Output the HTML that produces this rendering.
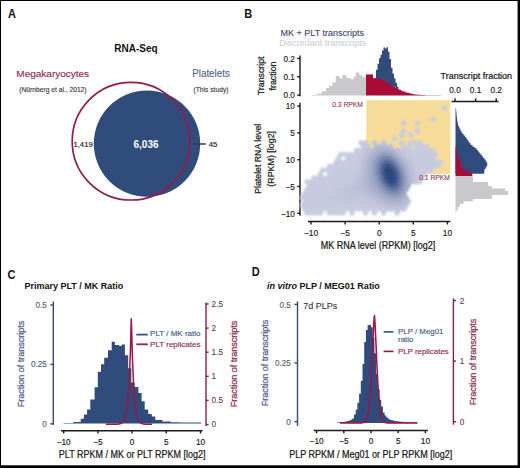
<!DOCTYPE html>
<html><head><meta charset="utf-8"><style>
html,body{margin:0;padding:0;background:#fff;}
body{width:520px;height:468px;overflow:hidden;position:relative;}
svg{position:absolute;left:0;top:0;}
text{font-family:"Liberation Sans",sans-serif;}
</style></head><body>
<svg width="520" height="468" viewBox="0 0 520 468">
<rect x="0" y="0" width="520" height="468" fill="#fff"/>
<text transform="translate(8.1,18) scale(1,1.1)" font-size="11" fill="#111" text-anchor="start" font-weight="bold" >A</text>
<text transform="translate(136,51.7) scale(1,1.0)" font-size="10" fill="#111" text-anchor="middle" font-weight="bold" >RNA-Seq</text>
<text transform="translate(52.7,76.9) scale(1,0.97)" font-size="10" fill="#8e2a4e" stroke="#8e2a4e" stroke-width="0.15" text-anchor="middle" font-weight="normal" >Megakaryocytes</text>
<text transform="translate(52.9,91.6) scale(1,1.0)" font-size="6.7" fill="#333" stroke="#333" stroke-width="0.12" text-anchor="middle" font-weight="normal" >(Nürnberg et al., 2012)</text>
<text transform="translate(211,76.6) scale(1,1.08)" font-size="9.8" fill="#52648a" stroke="#52648a" stroke-width="0.12" text-anchor="middle" font-weight="normal" >Platelets</text>
<text transform="translate(211,91.6) scale(1,1.0)" font-size="6.7" fill="#333" stroke="#333" stroke-width="0.12" text-anchor="middle" font-weight="normal" >(This study)</text>
<circle cx="147" cy="143.6" r="53.2" fill="#304c7c"/>
<circle cx="131" cy="141.2" r="58.8" fill="none" stroke="#931c47" stroke-width="1.7"/>
<text transform="translate(146,147.5) scale(1,1.0)" font-size="10" fill="#fff" text-anchor="middle" font-weight="bold" >6,036</text>
<text transform="translate(83.1,146.6) scale(1,1.0)" font-size="7.75" fill="#222" stroke="#222" stroke-width="0.15" text-anchor="middle" font-weight="normal" >1,419</text>
<line x1="193.4" y1="144" x2="205.8" y2="144" stroke="#3a3a3a" stroke-width="1.5"/>
<text transform="translate(208.8,146.8) scale(1,1.0)" font-size="7.75" fill="#222" stroke="#222" stroke-width="0.15" text-anchor="start" font-weight="normal" >45</text>
<text transform="translate(244.3,17.8) scale(1,1.1)" font-size="11" fill="#111" text-anchor="start" font-weight="bold" >B</text>
<text transform="translate(280.6,35.7) scale(1,1.08)" font-size="9" fill="#38466e" stroke="#38466e" stroke-width="0.1" text-anchor="start" font-weight="normal" >MK + PLT transcripts</text>
<text transform="translate(279.2,45.5) scale(1,1.08)" font-size="9" fill="#d0d0d4" stroke="#d0d0d4" stroke-width="0.1" text-anchor="start" font-weight="normal" >Discordant transcripts</text>
<line x1="300" y1="55.4" x2="300" y2="96.2" stroke="#1a1a1a" stroke-width="1.4"/>
<line x1="297.2" y1="58.5" x2="300" y2="58.5" stroke="#1a1a1a" stroke-width="1.4"/>
<text transform="translate(294.8,61.8) scale(1,1.05)" font-size="8.2" fill="#1a1a1a" stroke="#1a1a1a" stroke-width="0.15" text-anchor="end" font-weight="normal" >0.2</text>
<line x1="297.2" y1="76.8" x2="300" y2="76.8" stroke="#1a1a1a" stroke-width="1.4"/>
<text transform="translate(294.8,80.1) scale(1,1.05)" font-size="8.2" fill="#1a1a1a" stroke="#1a1a1a" stroke-width="0.15" text-anchor="end" font-weight="normal" >0.1</text>
<line x1="297.2" y1="95.1" x2="300" y2="95.1" stroke="#1a1a1a" stroke-width="1.4"/>
<text transform="translate(294.8,98.39999999999999) scale(1,1.05)" font-size="8.2" fill="#1a1a1a" stroke="#1a1a1a" stroke-width="0.15" text-anchor="end" font-weight="normal" >0.0</text>
<text transform="translate(264,75.8) rotate(-90) scale(1,1.03)" font-size="8.8" fill="#1a1a1a" stroke="#1a1a1a" stroke-width="0.22" text-anchor="middle">Transcript</text>
<text transform="translate(276.2,76) rotate(-90) scale(1,1.03)" font-size="8.8" fill="#1a1a1a" stroke="#1a1a1a" stroke-width="0.22" text-anchor="middle">fraction</text>
<line x1="300" y1="102.7" x2="300" y2="215.8" stroke="#1a1a1a" stroke-width="1.4"/>
<line x1="297.2" y1="106.1" x2="300" y2="106.1" stroke="#1a1a1a" stroke-width="1.4"/>
<text transform="translate(294.8,109.39999999999999) scale(1,1.05)" font-size="8.2" fill="#1a1a1a" stroke="#1a1a1a" stroke-width="0.15" text-anchor="end" font-weight="normal" >10</text>
<line x1="297.2" y1="132.9" x2="300" y2="132.9" stroke="#1a1a1a" stroke-width="1.4"/>
<text transform="translate(294.8,136.20000000000002) scale(1,1.05)" font-size="8.2" fill="#1a1a1a" stroke="#1a1a1a" stroke-width="0.15" text-anchor="end" font-weight="normal" >5</text>
<line x1="297.2" y1="159.7" x2="300" y2="159.7" stroke="#1a1a1a" stroke-width="1.4"/>
<text transform="translate(294.8,163.0) scale(1,1.05)" font-size="8.2" fill="#1a1a1a" stroke="#1a1a1a" stroke-width="0.15" text-anchor="end" font-weight="normal" >10</text>
<line x1="297.2" y1="186.5" x2="300" y2="186.5" stroke="#1a1a1a" stroke-width="1.4"/>
<text transform="translate(294.8,189.8) scale(1,1.05)" font-size="8.2" fill="#1a1a1a" stroke="#1a1a1a" stroke-width="0.15" text-anchor="end" font-weight="normal" >−5</text>
<line x1="297.2" y1="213.3" x2="300" y2="213.3" stroke="#1a1a1a" stroke-width="1.4"/>
<text transform="translate(294.8,216.60000000000002) scale(1,1.05)" font-size="8.2" fill="#1a1a1a" stroke="#1a1a1a" stroke-width="0.15" text-anchor="end" font-weight="normal" >−10</text>
<text transform="translate(260.5,158.8) rotate(-90) scale(1,1.0)" font-size="8.75" fill="#1a1a1a" stroke="#1a1a1a" stroke-width="0.22" text-anchor="middle">Platelet RNA level</text>
<text transform="translate(273.6,158.8) rotate(-90) scale(1,1.0)" font-size="8.9" fill="#1a1a1a" stroke="#1a1a1a" stroke-width="0.22" text-anchor="middle">(RPKM) [log2]</text>
<line x1="308" y1="221.5" x2="450.4" y2="221.5" stroke="#1a1a1a" stroke-width="1.4"/>
<line x1="311" y1="221.5" x2="311" y2="224.5" stroke="#1a1a1a" stroke-width="1.4"/>
<text transform="translate(311,235.5) scale(1,1.06)" font-size="8.3" fill="#1a1a1a" stroke="#1a1a1a" stroke-width="0.15" text-anchor="middle" font-weight="normal" >−10</text>
<line x1="345.1" y1="221.5" x2="345.1" y2="224.5" stroke="#1a1a1a" stroke-width="1.4"/>
<text transform="translate(345.1,235.5) scale(1,1.06)" font-size="8.3" fill="#1a1a1a" stroke="#1a1a1a" stroke-width="0.15" text-anchor="middle" font-weight="normal" >−5</text>
<line x1="379.2" y1="221.5" x2="379.2" y2="224.5" stroke="#1a1a1a" stroke-width="1.4"/>
<text transform="translate(379.2,235.5) scale(1,1.06)" font-size="8.3" fill="#1a1a1a" stroke="#1a1a1a" stroke-width="0.15" text-anchor="middle" font-weight="normal" >0</text>
<line x1="413.3" y1="221.5" x2="413.3" y2="224.5" stroke="#1a1a1a" stroke-width="1.4"/>
<text transform="translate(413.3,235.5) scale(1,1.06)" font-size="8.3" fill="#1a1a1a" stroke="#1a1a1a" stroke-width="0.15" text-anchor="middle" font-weight="normal" >5</text>
<line x1="447.4" y1="221.5" x2="447.4" y2="224.5" stroke="#1a1a1a" stroke-width="1.4"/>
<text transform="translate(447.4,235.5) scale(1,1.06)" font-size="8.3" fill="#1a1a1a" stroke="#1a1a1a" stroke-width="0.15" text-anchor="middle" font-weight="normal" >10</text>
<text transform="translate(378,249.2) scale(1,1.12)" font-size="9" fill="#1a1a1a" stroke="#1a1a1a" stroke-width="0.22" text-anchor="middle" font-weight="normal" >MK RNA level (RPKM) [log2]</text>
<rect x="366.3" y="100.2" width="84.1" height="73.8" fill="#f6dc98"/>
<text transform="translate(363,107) scale(1,1.0)" font-size="6.75" fill="#86375a" stroke="#86375a" stroke-width="0.1" text-anchor="end" font-weight="normal" >0.3 RPKM</text>
<defs><filter id="hb" x="-5%" y="-5%" width="110%" height="110%"><feGaussianBlur stdDeviation="0.8"/></filter></defs><g filter="url(#hb)">
<polygon points="446.97,109.21 444.35,110.72 441.74,109.21 441.74,106.19 444.35,104.68 446.97,106.19" fill="rgb(200, 202, 223)"/>
<polygon points="435.71,120.91 433.10,122.42 430.48,120.91 430.48,117.89 433.10,116.38 435.71,117.89" fill="rgb(200, 202, 223)"/>
<polygon points="406.44,124.81 403.82,126.32 401.21,124.81 401.21,121.79 403.82,120.28 406.44,121.79" fill="rgb(200, 202, 223)"/>
<polygon points="419.95,124.81 417.33,126.32 414.72,124.81 414.72,121.79 417.33,120.28 419.95,121.79" fill="rgb(200, 202, 223)"/>
<polygon points="406.44,132.61 403.82,134.12 401.21,132.61 401.21,129.59 403.82,128.08 406.44,129.59" fill="rgb(200, 202, 223)"/>
<polygon points="419.95,132.61 417.33,134.12 414.72,132.61 414.72,129.59 417.33,128.08 419.95,129.59" fill="rgb(200, 202, 223)"/>
<polygon points="404.19,136.51 401.57,138.02 398.96,136.51 398.96,133.49 401.57,131.98 404.19,133.49" fill="rgb(200, 202, 223)"/>
<polygon points="413.19,136.51 410.58,138.02 407.97,136.51 407.97,133.49 410.58,131.98 413.19,133.49" fill="rgb(200, 202, 223)"/>
<polygon points="397.43,140.41 394.82,141.92 392.21,140.41 392.21,137.39 394.82,135.88 397.43,137.39" fill="rgb(200, 202, 223)"/>
<polygon points="363.66,144.31 361.04,145.82 358.43,144.31 358.43,141.29 361.04,139.78 363.66,141.29" fill="rgb(200, 202, 223)"/>
<polygon points="368.16,144.31 365.55,145.82 362.93,144.31 362.93,141.29 365.55,139.78 368.16,141.29" fill="rgb(199, 201, 222)"/>
<polygon points="377.17,144.31 374.55,145.82 371.94,144.31 371.94,141.29 374.55,139.78 377.17,141.29" fill="rgb(194, 197, 219)"/>
<polygon points="386.17,144.31 383.56,145.82 380.95,144.31 380.95,141.29 383.56,139.78 386.17,141.29" fill="rgb(192, 195, 218)"/>
<polygon points="404.19,144.31 401.57,145.82 398.96,144.31 398.96,141.29 401.57,139.78 404.19,141.29" fill="rgb(200, 202, 223)"/>
<polygon points="413.19,144.31 410.58,145.82 407.97,144.31 407.97,141.29 410.58,139.78 413.19,141.29" fill="rgb(200, 202, 223)"/>
<polygon points="417.70,144.31 415.08,145.82 412.47,144.31 412.47,141.29 415.08,139.78 417.70,141.29" fill="rgb(200, 202, 223)"/>
<polygon points="422.20,144.31 419.59,145.82 416.97,144.31 416.97,141.29 419.59,139.78 422.20,141.29" fill="rgb(200, 202, 223)"/>
<polygon points="365.91,148.21 363.29,149.72 360.68,148.21 360.68,145.19 363.29,143.68 365.91,145.19" fill="rgb(199, 201, 222)"/>
<polygon points="370.41,148.21 367.80,149.72 365.19,148.21 365.19,145.19 367.80,143.68 370.41,145.19" fill="rgb(195, 198, 220)"/>
<polygon points="379.42,148.21 376.80,149.72 374.19,148.21 374.19,145.19 376.80,143.68 379.42,145.19" fill="rgb(184, 189, 213)"/>
<polygon points="383.92,148.21 381.31,149.72 378.70,148.21 378.70,145.19 381.31,143.68 383.92,145.19" fill="rgb(181, 186, 211)"/>
<polygon points="388.42,148.21 385.81,149.72 383.20,148.21 383.20,145.19 385.81,143.68 388.42,145.19" fill="rgb(182, 187, 212)"/>
<polygon points="392.93,148.21 390.31,149.72 387.70,148.21 387.70,145.19 390.31,143.68 392.93,145.19" fill="rgb(187, 191, 215)"/>
<polygon points="406.44,148.21 403.82,149.72 401.21,148.21 401.21,145.19 403.82,143.68 406.44,145.19" fill="rgb(200, 202, 223)"/>
<polygon points="410.94,148.21 408.33,149.72 405.72,148.21 405.72,145.19 408.33,143.68 410.94,145.19" fill="rgb(200, 202, 223)"/>
<polygon points="419.95,148.21 417.33,149.72 414.72,148.21 414.72,145.19 417.33,143.68 419.95,145.19" fill="rgb(200, 202, 223)"/>
<polygon points="424.45,148.21 421.84,149.72 419.23,148.21 419.23,145.19 421.84,143.68 424.45,145.19" fill="rgb(200, 202, 223)"/>
<polygon points="428.95,148.21 426.34,149.72 423.73,148.21 423.73,145.19 426.34,143.68 428.95,145.19" fill="rgb(200, 202, 223)"/>
<polygon points="359.15,152.11 356.54,153.62 353.93,152.11 353.93,149.09 356.54,147.58 359.15,149.09" fill="rgb(200, 202, 223)"/>
<polygon points="363.66,152.11 361.04,153.62 358.43,152.11 358.43,149.09 361.04,147.58 363.66,149.09" fill="rgb(199, 201, 222)"/>
<polygon points="368.16,152.11 365.55,153.62 362.93,152.11 362.93,149.09 365.55,147.58 368.16,149.09" fill="rgb(194, 197, 219)"/>
<polygon points="372.66,152.11 370.05,153.62 367.44,152.11 367.44,149.09 370.05,147.58 372.66,149.09" fill="rgb(187, 191, 215)"/>
<polygon points="377.17,152.11 374.55,153.62 371.94,152.11 371.94,149.09 374.55,147.58 377.17,149.09" fill="rgb(178, 184, 209)"/>
<polygon points="381.67,152.11 379.06,153.62 376.44,152.11 376.44,149.09 379.06,147.58 381.67,149.09" fill="rgb(170, 177, 204)"/>
<polygon points="386.17,152.11 383.56,153.62 380.95,152.11 380.95,149.09 383.56,147.58 386.17,149.09" fill="rgb(165, 173, 202)"/>
<polygon points="390.68,152.11 388.06,153.62 385.45,152.11 385.45,149.09 388.06,147.58 390.68,149.09" fill="rgb(168, 176, 204)"/>
<polygon points="395.18,152.11 392.57,153.62 389.95,152.11 389.95,149.09 392.57,147.58 395.18,149.09" fill="rgb(177, 183, 209)"/>
<polygon points="399.68,152.11 397.07,153.62 394.46,152.11 394.46,149.09 397.07,147.58 399.68,149.09" fill="rgb(187, 191, 215)"/>
<polygon points="404.19,152.11 401.57,153.62 398.96,152.11 398.96,149.09 401.57,147.58 404.19,149.09" fill="rgb(195, 198, 220)"/>
<polygon points="408.69,152.11 406.08,153.62 403.46,152.11 403.46,149.09 406.08,147.58 408.69,149.09" fill="rgb(199, 201, 222)"/>
<polygon points="413.19,152.11 410.58,153.62 407.97,152.11 407.97,149.09 410.58,147.58 413.19,149.09" fill="rgb(200, 202, 223)"/>
<polygon points="417.70,152.11 415.08,153.62 412.47,152.11 412.47,149.09 415.08,147.58 417.70,149.09" fill="rgb(200, 202, 223)"/>
<polygon points="422.20,152.11 419.59,153.62 416.97,152.11 416.97,149.09 419.59,147.58 422.20,149.09" fill="rgb(200, 202, 223)"/>
<polygon points="426.70,152.11 424.09,153.62 421.48,152.11 421.48,149.09 424.09,147.58 426.70,149.09" fill="rgb(200, 202, 223)"/>
<polygon points="431.21,152.11 428.59,153.62 425.98,152.11 425.98,149.09 428.59,147.58 431.21,149.09" fill="rgb(200, 202, 223)"/>
<polygon points="435.71,152.11 433.10,153.62 430.48,152.11 430.48,149.09 433.10,147.58 435.71,149.09" fill="rgb(200, 202, 223)"/>
<polygon points="343.39,156.01 340.78,157.52 338.17,156.01 338.17,152.99 340.78,151.48 343.39,152.99" fill="rgb(200, 202, 223)"/>
<polygon points="347.89,156.01 345.28,157.52 342.67,156.01 342.67,152.99 345.28,151.48 347.89,152.99" fill="rgb(200, 202, 223)"/>
<polygon points="352.40,156.01 349.78,157.52 347.17,156.01 347.17,152.99 349.78,151.48 352.40,152.99" fill="rgb(200, 202, 223)"/>
<polygon points="356.90,156.01 354.29,157.52 351.68,156.01 351.68,152.99 354.29,151.48 356.90,152.99" fill="rgb(200, 202, 223)"/>
<polygon points="361.40,156.01 358.79,157.52 356.18,156.01 356.18,152.99 358.79,151.48 361.40,152.99" fill="rgb(199, 201, 222)"/>
<polygon points="365.91,156.01 363.29,157.52 360.68,156.01 360.68,152.99 363.29,151.48 365.91,152.99" fill="rgb(195, 197, 220)"/>
<polygon points="370.41,156.01 367.80,157.52 365.19,156.01 365.19,152.99 367.80,151.48 370.41,152.99" fill="rgb(186, 190, 214)"/>
<polygon points="374.91,156.01 372.30,157.52 369.69,156.01 369.69,152.99 372.30,151.48 374.91,152.99" fill="rgb(175, 181, 207)"/>
<polygon points="379.42,156.01 376.80,157.52 374.19,156.01 374.19,152.99 376.80,151.48 379.42,152.99" fill="rgb(162, 170, 200)"/>
<polygon points="383.92,156.01 381.31,157.52 378.70,156.01 378.70,152.99 381.31,151.48 383.92,152.99" fill="rgb(148, 159, 191)"/>
<polygon points="388.42,156.01 385.81,157.52 383.20,156.01 383.20,152.99 385.81,151.48 388.42,152.99" fill="rgb(143, 155, 188)"/>
<polygon points="392.93,156.01 390.31,157.52 387.70,156.01 387.70,152.99 390.31,151.48 392.93,152.99" fill="rgb(151, 161, 193)"/>
<polygon points="397.43,156.01 394.82,157.52 392.21,156.01 392.21,152.99 394.82,151.48 397.43,152.99" fill="rgb(167, 175, 203)"/>
<polygon points="401.93,156.01 399.32,157.52 396.71,156.01 396.71,152.99 399.32,151.48 401.93,152.99" fill="rgb(182, 187, 212)"/>
<polygon points="406.44,156.01 403.82,157.52 401.21,156.01 401.21,152.99 403.82,151.48 406.44,152.99" fill="rgb(192, 195, 218)"/>
<polygon points="410.94,156.01 408.33,157.52 405.72,156.01 405.72,152.99 408.33,151.48 410.94,152.99" fill="rgb(198, 200, 222)"/>
<polygon points="415.44,156.01 412.83,157.52 410.22,156.01 410.22,152.99 412.83,151.48 415.44,152.99" fill="rgb(200, 202, 223)"/>
<polygon points="419.95,156.01 417.33,157.52 414.72,156.01 414.72,152.99 417.33,151.48 419.95,152.99" fill="rgb(200, 202, 223)"/>
<polygon points="424.45,156.01 421.84,157.52 419.23,156.01 419.23,152.99 421.84,151.48 424.45,152.99" fill="rgb(200, 202, 223)"/>
<polygon points="428.95,156.01 426.34,157.52 423.73,156.01 423.73,152.99 426.34,151.48 428.95,152.99" fill="rgb(200, 202, 223)"/>
<polygon points="433.46,156.01 430.84,157.52 428.23,156.01 428.23,152.99 430.84,151.48 433.46,152.99" fill="rgb(200, 202, 223)"/>
<polygon points="437.96,156.01 435.35,157.52 432.74,156.01 432.74,152.99 435.35,151.48 437.96,152.99" fill="rgb(200, 202, 223)"/>
<polygon points="341.14,159.91 338.53,161.42 335.91,159.91 335.91,156.89 338.53,155.38 341.14,156.89" fill="rgb(200, 202, 223)"/>
<polygon points="350.15,159.91 347.53,161.42 344.92,159.91 344.92,156.89 347.53,155.38 350.15,156.89" fill="rgb(200, 202, 223)"/>
<polygon points="354.65,159.91 352.04,161.42 349.42,159.91 349.42,156.89 352.04,155.38 354.65,156.89" fill="rgb(200, 202, 223)"/>
<polygon points="359.15,159.91 356.54,161.42 353.93,159.91 353.93,156.89 356.54,155.38 359.15,156.89" fill="rgb(200, 202, 223)"/>
<polygon points="363.66,159.91 361.04,161.42 358.43,159.91 358.43,156.89 361.04,155.38 363.66,156.89" fill="rgb(196, 199, 220)"/>
<polygon points="368.16,159.91 365.55,161.42 362.93,159.91 362.93,156.89 365.55,155.38 368.16,156.89" fill="rgb(187, 191, 215)"/>
<polygon points="372.66,159.91 370.05,161.42 367.44,159.91 367.44,156.89 370.05,155.38 372.66,156.89" fill="rgb(175, 181, 207)"/>
<polygon points="377.17,159.91 374.55,161.42 371.94,159.91 371.94,156.89 374.55,155.38 377.17,156.89" fill="rgb(159, 168, 198)"/>
<polygon points="381.67,159.91 379.06,161.42 376.44,159.91 376.44,156.89 379.06,155.38 381.67,156.89" fill="rgb(138, 151, 185)"/>
<polygon points="386.17,159.91 383.56,161.42 380.95,159.91 380.95,156.89 383.56,155.38 386.17,156.89" fill="rgb(119, 134, 174)"/>
<polygon points="390.68,159.91 388.06,161.42 385.45,159.91 385.45,156.89 388.06,155.38 390.68,156.89" fill="rgb(116, 132, 172)"/>
<polygon points="395.18,159.91 392.57,161.42 389.95,159.91 389.95,156.89 392.57,155.38 395.18,156.89" fill="rgb(133, 146, 182)"/>
<polygon points="399.68,159.91 397.07,161.42 394.46,159.91 394.46,156.89 397.07,155.38 399.68,156.89" fill="rgb(158, 167, 198)"/>
<polygon points="404.19,159.91 401.57,161.42 398.96,159.91 398.96,156.89 401.57,155.38 404.19,156.89" fill="rgb(178, 183, 209)"/>
<polygon points="408.69,159.91 406.08,161.42 403.46,159.91 403.46,156.89 406.08,155.38 408.69,156.89" fill="rgb(190, 193, 217)"/>
<polygon points="413.19,159.91 410.58,161.42 407.97,159.91 407.97,156.89 410.58,155.38 413.19,156.89" fill="rgb(197, 200, 221)"/>
<polygon points="417.70,159.91 415.08,161.42 412.47,159.91 412.47,156.89 415.08,155.38 417.70,156.89" fill="rgb(200, 202, 223)"/>
<polygon points="422.20,159.91 419.59,161.42 416.97,159.91 416.97,156.89 419.59,155.38 422.20,156.89" fill="rgb(200, 202, 223)"/>
<polygon points="426.70,159.91 424.09,161.42 421.48,159.91 421.48,156.89 424.09,155.38 426.70,156.89" fill="rgb(200, 202, 223)"/>
<polygon points="431.21,159.91 428.59,161.42 425.98,159.91 425.98,156.89 428.59,155.38 431.21,156.89" fill="rgb(200, 202, 223)"/>
<polygon points="435.71,159.91 433.10,161.42 430.48,159.91 430.48,156.89 433.10,155.38 435.71,156.89" fill="rgb(200, 202, 223)"/>
<polygon points="338.89,163.81 336.27,165.32 333.66,163.81 333.66,160.79 336.27,159.28 338.89,160.79" fill="rgb(200, 202, 223)"/>
<polygon points="343.39,163.81 340.78,165.32 338.17,163.81 338.17,160.79 340.78,159.28 343.39,160.79" fill="rgb(200, 202, 223)"/>
<polygon points="347.89,163.81 345.28,165.32 342.67,163.81 342.67,160.79 345.28,159.28 347.89,160.79" fill="rgb(200, 202, 223)"/>
<polygon points="352.40,163.81 349.78,165.32 347.17,163.81 347.17,160.79 349.78,159.28 352.40,160.79" fill="rgb(200, 202, 223)"/>
<polygon points="356.90,163.81 354.29,165.32 351.68,163.81 351.68,160.79 354.29,159.28 356.90,160.79" fill="rgb(200, 202, 223)"/>
<polygon points="361.40,163.81 358.79,165.32 356.18,163.81 356.18,160.79 358.79,159.28 361.40,160.79" fill="rgb(198, 200, 221)"/>
<polygon points="365.91,163.81 363.29,165.32 360.68,163.81 360.68,160.79 363.29,159.28 365.91,160.79" fill="rgb(189, 193, 216)"/>
<polygon points="370.41,163.81 367.80,165.32 365.19,163.81 365.19,160.79 367.80,159.28 370.41,160.79" fill="rgb(177, 183, 209)"/>
<polygon points="374.91,163.81 372.30,165.32 369.69,163.81 369.69,160.79 372.30,159.28 374.91,160.79" fill="rgb(162, 170, 200)"/>
<polygon points="379.42,163.81 376.80,165.32 374.19,163.81 374.19,160.79 376.80,159.28 379.42,160.79" fill="rgb(139, 151, 186)"/>
<polygon points="383.92,163.81 381.31,165.32 378.70,163.81 378.70,160.79 381.31,159.28 383.92,160.79" fill="rgb(108, 125, 167)"/>
<polygon points="388.42,163.81 385.81,165.32 383.20,163.81 383.20,160.79 385.81,159.28 388.42,160.79" fill="rgb(85, 106, 153)"/>
<polygon points="392.93,163.81 390.31,165.32 387.70,163.81 387.70,160.79 390.31,159.28 392.93,160.79" fill="rgb(90, 110, 156)"/>
<polygon points="397.43,163.81 394.82,165.32 392.21,163.81 392.21,160.79 394.82,159.28 397.43,160.79" fill="rgb(119, 134, 173)"/>
<polygon points="401.93,163.81 399.32,165.32 396.71,163.81 396.71,160.79 399.32,159.28 401.93,160.79" fill="rgb(153, 162, 194)"/>
<polygon points="406.44,163.81 403.82,165.32 401.21,163.81 401.21,160.79 403.82,159.28 406.44,160.79" fill="rgb(175, 181, 208)"/>
<polygon points="410.94,163.81 408.33,165.32 405.72,163.81 405.72,160.79 408.33,159.28 410.94,160.79" fill="rgb(189, 193, 216)"/>
<polygon points="415.44,163.81 412.83,165.32 410.22,163.81 410.22,160.79 412.83,159.28 415.44,160.79" fill="rgb(197, 200, 221)"/>
<polygon points="419.95,163.81 417.33,165.32 414.72,163.81 414.72,160.79 417.33,159.28 419.95,160.79" fill="rgb(200, 202, 223)"/>
<polygon points="424.45,163.81 421.84,165.32 419.23,163.81 419.23,160.79 421.84,159.28 424.45,160.79" fill="rgb(200, 202, 223)"/>
<polygon points="428.95,163.81 426.34,165.32 423.73,163.81 423.73,160.79 426.34,159.28 428.95,160.79" fill="rgb(200, 202, 223)"/>
<polygon points="433.46,163.81 430.84,165.32 428.23,163.81 428.23,160.79 430.84,159.28 433.46,160.79" fill="rgb(200, 202, 223)"/>
<polygon points="437.96,163.81 435.35,165.32 432.74,163.81 432.74,160.79 435.35,159.28 437.96,160.79" fill="rgb(200, 202, 223)"/>
<polygon points="442.46,163.81 439.85,165.32 437.24,163.81 437.24,160.79 439.85,159.28 442.46,160.79" fill="rgb(200, 202, 223)"/>
<polygon points="332.13,167.71 329.52,169.22 326.91,167.71 326.91,164.69 329.52,163.18 332.13,164.69" fill="rgb(200, 202, 223)"/>
<polygon points="336.64,167.71 334.02,169.22 331.41,167.71 331.41,164.69 334.02,163.18 336.64,164.69" fill="rgb(200, 202, 223)"/>
<polygon points="341.14,167.71 338.53,169.22 335.91,167.71 335.91,164.69 338.53,163.18 341.14,164.69" fill="rgb(200, 202, 223)"/>
<polygon points="345.64,167.71 343.03,169.22 340.42,167.71 340.42,164.69 343.03,163.18 345.64,164.69" fill="rgb(200, 202, 223)"/>
<polygon points="350.15,167.71 347.53,169.22 344.92,167.71 344.92,164.69 347.53,163.18 350.15,164.69" fill="rgb(200, 202, 223)"/>
<polygon points="354.65,167.71 352.04,169.22 349.42,167.71 349.42,164.69 352.04,163.18 354.65,164.69" fill="rgb(200, 202, 223)"/>
<polygon points="359.15,167.71 356.54,169.22 353.93,167.71 353.93,164.69 356.54,163.18 359.15,164.69" fill="rgb(199, 201, 222)"/>
<polygon points="363.66,167.71 361.04,169.22 358.43,167.71 358.43,164.69 361.04,163.18 363.66,164.69" fill="rgb(193, 196, 218)"/>
<polygon points="368.16,167.71 365.55,169.22 362.93,167.71 362.93,164.69 365.55,163.18 368.16,164.69" fill="rgb(181, 186, 211)"/>
<polygon points="372.66,167.71 370.05,169.22 367.44,167.71 367.44,164.69 370.05,163.18 372.66,164.69" fill="rgb(167, 174, 203)"/>
<polygon points="377.17,167.71 374.55,169.22 371.94,167.71 371.94,164.69 374.55,163.18 377.17,164.69" fill="rgb(147, 158, 191)"/>
<polygon points="381.67,167.71 379.06,169.22 376.44,167.71 376.44,164.69 379.06,163.18 381.67,164.69" fill="rgb(113, 130, 170)"/>
<polygon points="386.17,167.71 383.56,169.22 380.95,167.71 380.95,164.69 383.56,163.18 386.17,164.69" fill="rgb(74, 97, 146)"/>
<polygon points="390.68,167.71 388.06,169.22 385.45,167.71 385.45,164.69 388.06,163.18 390.68,164.69" fill="rgb(55, 81, 134)"/>
<polygon points="395.18,167.71 392.57,169.22 389.95,167.71 389.95,164.69 392.57,163.18 395.18,164.69" fill="rgb(70, 94, 144)"/>
<polygon points="399.68,167.71 397.07,169.22 394.46,167.71 394.46,164.69 397.07,163.18 399.68,164.69" fill="rgb(111, 128, 169)"/>
<polygon points="404.19,167.71 401.57,169.22 398.96,167.71 398.96,164.69 401.57,163.18 404.19,164.69" fill="rgb(151, 161, 193)"/>
<polygon points="408.69,167.71 406.08,169.22 403.46,167.71 403.46,164.69 406.08,163.18 408.69,164.69" fill="rgb(175, 181, 208)"/>
<polygon points="413.19,167.71 410.58,169.22 407.97,167.71 407.97,164.69 410.58,163.18 413.19,164.69" fill="rgb(189, 193, 216)"/>
<polygon points="417.70,167.71 415.08,169.22 412.47,167.71 412.47,164.69 415.08,163.18 417.70,164.69" fill="rgb(198, 200, 221)"/>
<polygon points="422.20,167.71 419.59,169.22 416.97,167.71 416.97,164.69 419.59,163.18 422.20,164.69" fill="rgb(200, 202, 223)"/>
<polygon points="426.70,167.71 424.09,169.22 421.48,167.71 421.48,164.69 424.09,163.18 426.70,164.69" fill="rgb(200, 202, 223)"/>
<polygon points="431.21,167.71 428.59,169.22 425.98,167.71 425.98,164.69 428.59,163.18 431.21,164.69" fill="rgb(200, 202, 223)"/>
<polygon points="435.71,167.71 433.10,169.22 430.48,167.71 430.48,164.69 433.10,163.18 435.71,164.69" fill="rgb(200, 202, 223)"/>
<polygon points="440.21,167.71 437.60,169.22 434.99,167.71 434.99,164.69 437.60,163.18 440.21,164.69" fill="rgb(200, 202, 223)"/>
<polygon points="325.38,171.61 322.76,173.12 320.15,171.61 320.15,168.59 322.76,167.08 325.38,168.59" fill="rgb(200, 202, 223)"/>
<polygon points="329.88,171.61 327.27,173.12 324.66,171.61 324.66,168.59 327.27,167.08 329.88,168.59" fill="rgb(200, 202, 223)"/>
<polygon points="334.38,171.61 331.77,173.12 329.16,171.61 329.16,168.59 331.77,167.08 334.38,168.59" fill="rgb(200, 202, 223)"/>
<polygon points="338.89,171.61 336.27,173.12 333.66,171.61 333.66,168.59 336.27,167.08 338.89,168.59" fill="rgb(200, 202, 223)"/>
<polygon points="343.39,171.61 340.78,173.12 338.17,171.61 338.17,168.59 340.78,167.08 343.39,168.59" fill="rgb(200, 202, 223)"/>
<polygon points="347.89,171.61 345.28,173.12 342.67,171.61 342.67,168.59 345.28,167.08 347.89,168.59" fill="rgb(200, 202, 223)"/>
<polygon points="352.40,171.61 349.78,173.12 347.17,171.61 347.17,168.59 349.78,167.08 352.40,168.59" fill="rgb(200, 202, 223)"/>
<polygon points="356.90,171.61 354.29,173.12 351.68,171.61 351.68,168.59 354.29,167.08 356.90,168.59" fill="rgb(199, 201, 222)"/>
<polygon points="361.40,171.61 358.79,173.12 356.18,171.61 356.18,168.59 358.79,167.08 361.40,168.59" fill="rgb(195, 198, 220)"/>
<polygon points="365.91,171.61 363.29,173.12 360.68,171.61 360.68,168.59 363.29,167.08 365.91,168.59" fill="rgb(186, 190, 214)"/>
<polygon points="370.41,171.61 367.80,173.12 365.19,171.61 365.19,168.59 367.80,167.08 370.41,168.59" fill="rgb(173, 179, 206)"/>
<polygon points="374.91,171.61 372.30,173.12 369.69,171.61 369.69,168.59 372.30,167.08 374.91,168.59" fill="rgb(157, 166, 196)"/>
<polygon points="379.42,171.61 376.80,173.12 374.19,171.61 374.19,168.59 376.80,167.08 379.42,168.59" fill="rgb(130, 144, 180)"/>
<polygon points="383.92,171.61 381.31,173.12 378.70,171.61 378.70,168.59 381.31,167.08 383.92,168.59" fill="rgb(86, 107, 154)"/>
<polygon points="388.42,171.61 385.81,173.12 383.20,171.61 383.20,168.59 385.81,167.08 388.42,168.59" fill="rgb(45, 73, 129)"/>
<polygon points="392.93,171.61 390.31,173.12 387.70,171.61 387.70,168.59 390.31,167.08 392.93,168.59" fill="rgb(44, 72, 128)"/>
<polygon points="397.43,171.61 394.82,173.12 392.21,171.61 392.21,168.59 394.82,167.08 397.43,168.59" fill="rgb(63, 88, 139)"/>
<polygon points="401.93,171.61 399.32,173.12 396.71,171.61 396.71,168.59 399.32,167.08 401.93,168.59" fill="rgb(113, 129, 170)"/>
<polygon points="406.44,171.61 403.82,173.12 401.21,171.61 401.21,168.59 403.82,167.08 406.44,168.59" fill="rgb(154, 164, 195)"/>
<polygon points="410.94,171.61 408.33,173.12 405.72,171.61 405.72,168.59 408.33,167.08 410.94,168.59" fill="rgb(177, 183, 209)"/>
<polygon points="415.44,171.61 412.83,173.12 410.22,171.61 410.22,168.59 412.83,167.08 415.44,168.59" fill="rgb(191, 194, 217)"/>
<polygon points="419.95,171.61 417.33,173.12 414.72,171.61 414.72,168.59 417.33,167.08 419.95,168.59" fill="rgb(199, 201, 222)"/>
<polygon points="424.45,171.61 421.84,173.12 419.23,171.61 419.23,168.59 421.84,167.08 424.45,168.59" fill="rgb(200, 202, 223)"/>
<polygon points="428.95,171.61 426.34,173.12 423.73,171.61 423.73,168.59 426.34,167.08 428.95,168.59" fill="rgb(200, 202, 223)"/>
<polygon points="433.46,171.61 430.84,173.12 428.23,171.61 428.23,168.59 430.84,167.08 433.46,168.59" fill="rgb(200, 202, 223)"/>
<polygon points="323.13,175.51 320.51,177.02 317.90,175.51 317.90,172.49 320.51,170.98 323.13,172.49" fill="rgb(200, 202, 223)"/>
<polygon points="332.13,175.51 329.52,177.02 326.91,175.51 326.91,172.49 329.52,170.98 332.13,172.49" fill="rgb(200, 202, 223)"/>
<polygon points="336.64,175.51 334.02,177.02 331.41,175.51 331.41,172.49 334.02,170.98 336.64,172.49" fill="rgb(200, 202, 223)"/>
<polygon points="341.14,175.51 338.53,177.02 335.91,175.51 335.91,172.49 338.53,170.98 341.14,172.49" fill="rgb(200, 202, 223)"/>
<polygon points="345.64,175.51 343.03,177.02 340.42,175.51 340.42,172.49 343.03,170.98 345.64,172.49" fill="rgb(200, 202, 223)"/>
<polygon points="350.15,175.51 347.53,177.02 344.92,175.51 344.92,172.49 347.53,170.98 350.15,172.49" fill="rgb(200, 202, 223)"/>
<polygon points="354.65,175.51 352.04,177.02 349.42,175.51 349.42,172.49 352.04,170.98 354.65,172.49" fill="rgb(200, 202, 223)"/>
<polygon points="359.15,175.51 356.54,177.02 353.93,175.51 353.93,172.49 356.54,170.98 359.15,172.49" fill="rgb(197, 199, 221)"/>
<polygon points="363.66,175.51 361.04,177.02 358.43,175.51 358.43,172.49 361.04,170.98 363.66,172.49" fill="rgb(190, 193, 216)"/>
<polygon points="368.16,175.51 365.55,177.02 362.93,175.51 362.93,172.49 365.55,170.98 368.16,172.49" fill="rgb(179, 184, 210)"/>
<polygon points="372.66,175.51 370.05,177.02 367.44,175.51 367.44,172.49 370.05,170.98 372.66,172.49" fill="rgb(165, 173, 201)"/>
<polygon points="377.17,175.51 374.55,177.02 371.94,175.51 371.94,172.49 374.55,170.98 377.17,172.49" fill="rgb(146, 157, 190)"/>
<polygon points="381.67,175.51 379.06,177.02 376.44,175.51 376.44,172.49 379.06,170.98 381.67,172.49" fill="rgb(113, 129, 170)"/>
<polygon points="386.17,175.51 383.56,177.02 380.95,175.51 380.95,172.49 383.56,170.98 386.17,172.49" fill="rgb(64, 89, 140)"/>
<polygon points="390.68,175.51 388.06,177.02 385.45,175.51 385.45,172.49 388.06,170.98 390.68,172.49" fill="rgb(44, 72, 128)"/>
<polygon points="395.18,175.51 392.57,177.02 389.95,175.51 389.95,172.49 392.57,170.98 395.18,172.49" fill="rgb(44, 72, 128)"/>
<polygon points="399.68,175.51 397.07,177.02 394.46,175.51 394.46,172.49 397.07,170.98 399.68,172.49" fill="rgb(69, 93, 143)"/>
<polygon points="404.19,175.51 401.57,177.02 398.96,175.51 398.96,172.49 401.57,170.98 404.19,172.49" fill="rgb(122, 137, 175)"/>
<polygon points="408.69,175.51 406.08,177.02 403.46,175.51 403.46,172.49 406.08,170.98 408.69,172.49" fill="rgb(161, 169, 199)"/>
<polygon points="413.19,175.51 410.58,177.02 407.97,175.51 407.97,172.49 410.58,170.98 413.19,172.49" fill="rgb(181, 186, 211)"/>
<polygon points="417.70,175.51 415.08,177.02 412.47,175.51 412.47,172.49 415.08,170.98 417.70,172.49" fill="rgb(193, 196, 219)"/>
<polygon points="422.20,175.51 419.59,177.02 416.97,175.51 416.97,172.49 419.59,170.98 422.20,172.49" fill="rgb(199, 201, 222)"/>
<polygon points="426.70,175.51 424.09,177.02 421.48,175.51 421.48,172.49 424.09,170.98 426.70,172.49" fill="rgb(200, 202, 223)"/>
<polygon points="316.37,179.41 313.76,180.92 311.15,179.41 311.15,176.39 313.76,174.88 316.37,176.39" fill="rgb(200, 202, 223)"/>
<polygon points="320.87,179.41 318.26,180.92 315.65,179.41 315.65,176.39 318.26,174.88 320.87,176.39" fill="rgb(200, 202, 223)"/>
<polygon points="325.38,179.41 322.76,180.92 320.15,179.41 320.15,176.39 322.76,174.88 325.38,176.39" fill="rgb(200, 202, 223)"/>
<polygon points="329.88,179.41 327.27,180.92 324.66,179.41 324.66,176.39 327.27,174.88 329.88,176.39" fill="rgb(200, 202, 223)"/>
<polygon points="334.38,179.41 331.77,180.92 329.16,179.41 329.16,176.39 331.77,174.88 334.38,176.39" fill="rgb(200, 202, 223)"/>
<polygon points="338.89,179.41 336.27,180.92 333.66,179.41 333.66,176.39 336.27,174.88 338.89,176.39" fill="rgb(200, 202, 223)"/>
<polygon points="343.39,179.41 340.78,180.92 338.17,179.41 338.17,176.39 340.78,174.88 343.39,176.39" fill="rgb(200, 202, 223)"/>
<polygon points="347.89,179.41 345.28,180.92 342.67,179.41 342.67,176.39 345.28,174.88 347.89,176.39" fill="rgb(200, 202, 223)"/>
<polygon points="352.40,179.41 349.78,180.92 347.17,179.41 347.17,176.39 349.78,174.88 352.40,176.39" fill="rgb(199, 201, 222)"/>
<polygon points="356.90,179.41 354.29,180.92 351.68,179.41 351.68,176.39 354.29,174.88 356.90,176.39" fill="rgb(197, 199, 221)"/>
<polygon points="361.40,179.41 358.79,180.92 356.18,179.41 356.18,176.39 358.79,174.88 361.40,176.39" fill="rgb(192, 195, 218)"/>
<polygon points="365.91,179.41 363.29,180.92 360.68,179.41 360.68,176.39 363.29,174.88 365.91,176.39" fill="rgb(183, 188, 213)"/>
<polygon points="370.41,179.41 367.80,180.92 365.19,179.41 365.19,176.39 367.80,174.88 370.41,176.39" fill="rgb(172, 179, 206)"/>
<polygon points="374.91,179.41 372.30,180.92 369.69,179.41 369.69,176.39 372.30,174.88 374.91,176.39" fill="rgb(158, 167, 197)"/>
<polygon points="379.42,179.41 376.80,180.92 374.19,179.41 374.19,176.39 376.80,174.88 379.42,176.39" fill="rgb(138, 150, 185)"/>
<polygon points="383.92,179.41 381.31,180.92 378.70,179.41 378.70,176.39 381.31,174.88 383.92,176.39" fill="rgb(100, 119, 162)"/>
<polygon points="388.42,179.41 385.81,180.92 383.20,179.41 383.20,176.39 385.81,174.88 388.42,176.39" fill="rgb(53, 79, 133)"/>
<polygon points="392.93,179.41 390.31,180.92 387.70,179.41 387.70,176.39 390.31,174.88 392.93,176.39" fill="rgb(44, 72, 128)"/>
<polygon points="397.43,179.41 394.82,180.92 392.21,179.41 392.21,176.39 394.82,174.88 397.43,176.39" fill="rgb(44, 72, 128)"/>
<polygon points="401.93,179.41 399.32,180.92 396.71,179.41 396.71,176.39 399.32,174.88 401.93,176.39" fill="rgb(87, 107, 154)"/>
<polygon points="406.44,179.41 403.82,180.92 401.21,179.41 401.21,176.39 403.82,174.88 406.44,176.39" fill="rgb(137, 149, 184)"/>
<polygon points="410.94,179.41 408.33,180.92 405.72,179.41 405.72,176.39 408.33,174.88 410.94,176.39" fill="rgb(168, 175, 203)"/>
<polygon points="415.44,179.41 412.83,180.92 410.22,179.41 410.22,176.39 412.83,174.88 415.44,176.39" fill="rgb(185, 190, 214)"/>
<polygon points="419.95,179.41 417.33,180.92 414.72,179.41 414.72,176.39 417.33,174.88 419.95,176.39" fill="rgb(196, 199, 221)"/>
<polygon points="424.45,179.41 421.84,180.92 419.23,179.41 419.23,176.39 421.84,174.88 424.45,176.39" fill="rgb(200, 202, 223)"/>
<polygon points="309.62,183.31 307.00,184.82 304.39,183.31 304.39,180.29 307.00,178.78 309.62,180.29" fill="rgb(200, 202, 223)"/>
<polygon points="314.12,183.31 311.51,184.82 308.89,183.31 308.89,180.29 311.51,178.78 314.12,180.29" fill="rgb(200, 202, 223)"/>
<polygon points="318.62,183.31 316.01,184.82 313.40,183.31 313.40,180.29 316.01,178.78 318.62,180.29" fill="rgb(200, 202, 223)"/>
<polygon points="323.13,183.31 320.51,184.82 317.90,183.31 317.90,180.29 320.51,178.78 323.13,180.29" fill="rgb(200, 202, 223)"/>
<polygon points="327.63,183.31 325.02,184.82 322.40,183.31 322.40,180.29 325.02,178.78 327.63,180.29" fill="rgb(200, 202, 223)"/>
<polygon points="332.13,183.31 329.52,184.82 326.91,183.31 326.91,180.29 329.52,178.78 332.13,180.29" fill="rgb(200, 202, 223)"/>
<polygon points="336.64,183.31 334.02,184.82 331.41,183.31 331.41,180.29 334.02,178.78 336.64,180.29" fill="rgb(200, 202, 223)"/>
<polygon points="341.14,183.31 338.53,184.82 335.91,183.31 335.91,180.29 338.53,178.78 341.14,180.29" fill="rgb(200, 202, 223)"/>
<polygon points="345.64,183.31 343.03,184.82 340.42,183.31 340.42,180.29 343.03,178.78 345.64,180.29" fill="rgb(200, 202, 223)"/>
<polygon points="350.15,183.31 347.53,184.82 344.92,183.31 344.92,180.29 347.53,178.78 350.15,180.29" fill="rgb(199, 201, 222)"/>
<polygon points="354.65,183.31 352.04,184.82 349.42,183.31 349.42,180.29 352.04,178.78 354.65,180.29" fill="rgb(196, 199, 221)"/>
<polygon points="359.15,183.31 356.54,184.82 353.93,183.31 353.93,180.29 356.54,178.78 359.15,180.29" fill="rgb(192, 196, 218)"/>
<polygon points="363.66,183.31 361.04,184.82 358.43,183.31 358.43,180.29 361.04,178.78 363.66,180.29" fill="rgb(186, 191, 215)"/>
<polygon points="368.16,183.31 365.55,184.82 362.93,183.31 362.93,180.29 365.55,178.78 368.16,180.29" fill="rgb(178, 184, 210)"/>
<polygon points="372.66,183.31 370.05,184.82 367.44,183.31 367.44,180.29 370.05,178.78 372.66,180.29" fill="rgb(167, 175, 203)"/>
<polygon points="377.17,183.31 374.55,184.82 371.94,183.31 371.94,180.29 374.55,178.78 377.17,180.29" fill="rgb(154, 164, 195)"/>
<polygon points="381.67,183.31 379.06,184.82 376.44,183.31 376.44,180.29 379.06,178.78 381.67,180.29" fill="rgb(133, 146, 182)"/>
<polygon points="386.17,183.31 383.56,184.82 380.95,183.31 380.95,180.29 383.56,178.78 386.17,180.29" fill="rgb(95, 114, 159)"/>
<polygon points="390.68,183.31 388.06,184.82 385.45,183.31 385.45,180.29 388.06,178.78 390.68,180.29" fill="rgb(55, 81, 135)"/>
<polygon points="395.18,183.31 392.57,184.82 389.95,183.31 389.95,180.29 392.57,178.78 395.18,180.29" fill="rgb(44, 72, 128)"/>
<polygon points="399.68,183.31 397.07,184.82 394.46,183.31 394.46,180.29 397.07,178.78 399.68,180.29" fill="rgb(65, 90, 141)"/>
<polygon points="404.19,183.31 401.57,184.82 398.96,183.31 398.96,180.29 401.57,178.78 404.19,180.29" fill="rgb(112, 128, 169)"/>
<polygon points="408.69,183.31 406.08,184.82 403.46,183.31 403.46,180.29 406.08,178.78 408.69,180.29" fill="rgb(153, 162, 194)"/>
<polygon points="413.19,183.31 410.58,184.82 407.97,183.31 407.97,180.29 410.58,178.78 413.19,180.29" fill="rgb(176, 182, 208)"/>
<polygon points="417.70,183.31 415.08,184.82 412.47,183.31 412.47,180.29 415.08,178.78 417.70,180.29" fill="rgb(191, 194, 217)"/>
<polygon points="422.20,183.31 419.59,184.82 416.97,183.31 416.97,180.29 419.59,178.78 422.20,180.29" fill="rgb(199, 201, 222)"/>
<polygon points="311.87,187.21 309.25,188.72 306.64,187.21 306.64,184.19 309.25,182.68 311.87,184.19" fill="rgb(200, 202, 223)"/>
<polygon points="316.37,187.21 313.76,188.72 311.15,187.21 311.15,184.19 313.76,182.68 316.37,184.19" fill="rgb(200, 202, 223)"/>
<polygon points="320.87,187.21 318.26,188.72 315.65,187.21 315.65,184.19 318.26,182.68 320.87,184.19" fill="rgb(200, 202, 223)"/>
<polygon points="325.38,187.21 322.76,188.72 320.15,187.21 320.15,184.19 322.76,182.68 325.38,184.19" fill="rgb(200, 202, 223)"/>
<polygon points="329.88,187.21 327.27,188.72 324.66,187.21 324.66,184.19 327.27,182.68 329.88,184.19" fill="rgb(200, 202, 223)"/>
<polygon points="334.38,187.21 331.77,188.72 329.16,187.21 329.16,184.19 331.77,182.68 334.38,184.19" fill="rgb(200, 202, 223)"/>
<polygon points="338.89,187.21 336.27,188.72 333.66,187.21 333.66,184.19 336.27,182.68 338.89,184.19" fill="rgb(200, 202, 223)"/>
<polygon points="343.39,187.21 340.78,188.72 338.17,187.21 338.17,184.19 340.78,182.68 343.39,184.19" fill="rgb(199, 201, 222)"/>
<polygon points="347.89,187.21 345.28,188.72 342.67,187.21 342.67,184.19 345.28,182.68 347.89,184.19" fill="rgb(197, 200, 221)"/>
<polygon points="352.40,187.21 349.78,188.72 347.17,187.21 347.17,184.19 349.78,182.68 352.40,184.19" fill="rgb(195, 198, 220)"/>
<polygon points="356.90,187.21 354.29,188.72 351.68,187.21 351.68,184.19 354.29,182.68 356.90,184.19" fill="rgb(192, 195, 218)"/>
<polygon points="361.40,187.21 358.79,188.72 356.18,187.21 356.18,184.19 358.79,182.68 361.40,184.19" fill="rgb(188, 192, 216)"/>
<polygon points="365.91,187.21 363.29,188.72 360.68,187.21 360.68,184.19 363.29,182.68 365.91,184.19" fill="rgb(183, 188, 212)"/>
<polygon points="370.41,187.21 367.80,188.72 365.19,187.21 365.19,184.19 367.80,182.68 370.41,184.19" fill="rgb(175, 181, 208)"/>
<polygon points="374.91,187.21 372.30,188.72 369.69,187.21 369.69,184.19 372.30,182.68 374.91,184.19" fill="rgb(166, 173, 202)"/>
<polygon points="379.42,187.21 376.80,188.72 374.19,187.21 374.19,184.19 376.80,182.68 379.42,184.19" fill="rgb(153, 163, 194)"/>
<polygon points="383.92,187.21 381.31,188.72 378.70,187.21 378.70,184.19 381.31,182.68 383.92,184.19" fill="rgb(132, 145, 181)"/>
<polygon points="388.42,187.21 385.81,188.72 383.20,187.21 383.20,184.19 385.81,182.68 388.42,184.19" fill="rgb(99, 118, 161)"/>
<polygon points="392.93,187.21 390.31,188.72 387.70,187.21 387.70,184.19 390.31,182.68 392.93,184.19" fill="rgb(71, 94, 144)"/>
<polygon points="397.43,187.21 394.82,188.72 392.21,187.21 392.21,184.19 394.82,182.68 397.43,184.19" fill="rgb(69, 93, 143)"/>
<polygon points="401.93,187.21 399.32,188.72 396.71,187.21 396.71,184.19 399.32,182.68 401.93,184.19" fill="rgb(97, 116, 160)"/>
<polygon points="406.44,187.21 403.82,188.72 401.21,187.21 401.21,184.19 403.82,182.68 406.44,184.19" fill="rgb(137, 150, 185)"/>
<polygon points="410.94,187.21 408.33,188.72 405.72,187.21 405.72,184.19 408.33,182.68 410.94,184.19" fill="rgb(167, 174, 202)"/>
<polygon points="309.62,191.11 307.00,192.62 304.39,191.11 304.39,188.09 307.00,186.58 309.62,188.09" fill="rgb(200, 202, 223)"/>
<polygon points="314.12,191.11 311.51,192.62 308.89,191.11 308.89,188.09 311.51,186.58 314.12,188.09" fill="rgb(200, 202, 223)"/>
<polygon points="318.62,191.11 316.01,192.62 313.40,191.11 313.40,188.09 316.01,186.58 318.62,188.09" fill="rgb(200, 202, 223)"/>
<polygon points="323.13,191.11 320.51,192.62 317.90,191.11 317.90,188.09 320.51,186.58 323.13,188.09" fill="rgb(200, 202, 223)"/>
<polygon points="327.63,191.11 325.02,192.62 322.40,191.11 322.40,188.09 325.02,186.58 327.63,188.09" fill="rgb(200, 202, 223)"/>
<polygon points="332.13,191.11 329.52,192.62 326.91,191.11 326.91,188.09 329.52,186.58 332.13,188.09" fill="rgb(200, 202, 223)"/>
<polygon points="336.64,191.11 334.02,192.62 331.41,191.11 331.41,188.09 334.02,186.58 336.64,188.09" fill="rgb(199, 201, 222)"/>
<polygon points="341.14,191.11 338.53,192.62 335.91,191.11 335.91,188.09 338.53,186.58 341.14,188.09" fill="rgb(198, 200, 222)"/>
<polygon points="345.64,191.11 343.03,192.62 340.42,191.11 340.42,188.09 343.03,186.58 345.64,188.09" fill="rgb(196, 198, 220)"/>
<polygon points="350.15,191.11 347.53,192.62 344.92,191.11 344.92,188.09 347.53,186.58 350.15,188.09" fill="rgb(193, 196, 219)"/>
<polygon points="354.65,191.11 352.04,192.62 349.42,191.11 349.42,188.09 352.04,186.58 354.65,188.09" fill="rgb(191, 195, 217)"/>
<polygon points="359.15,191.11 356.54,192.62 353.93,191.11 353.93,188.09 356.54,186.58 359.15,188.09" fill="rgb(189, 193, 216)"/>
<polygon points="363.66,191.11 361.04,192.62 358.43,191.11 358.43,188.09 361.04,186.58 363.66,188.09" fill="rgb(186, 190, 214)"/>
<polygon points="368.16,191.11 365.55,192.62 362.93,191.11 362.93,188.09 365.55,186.58 368.16,188.09" fill="rgb(182, 187, 212)"/>
<polygon points="372.66,191.11 370.05,192.62 367.44,191.11 367.44,188.09 370.05,186.58 372.66,188.09" fill="rgb(175, 181, 208)"/>
<polygon points="377.17,191.11 374.55,192.62 371.94,191.11 371.94,188.09 374.55,186.58 377.17,188.09" fill="rgb(167, 174, 203)"/>
<polygon points="381.67,191.11 379.06,192.62 376.44,191.11 376.44,188.09 379.06,186.58 381.67,188.09" fill="rgb(155, 165, 196)"/>
<polygon points="386.17,191.11 383.56,192.62 380.95,191.11 380.95,188.09 383.56,186.58 386.17,188.09" fill="rgb(137, 150, 185)"/>
<polygon points="390.68,191.11 388.06,192.62 385.45,191.11 385.45,188.09 388.06,186.58 390.68,188.09" fill="rgb(112, 129, 169)"/>
<polygon points="395.18,191.11 392.57,192.62 389.95,191.11 389.95,188.09 392.57,186.58 395.18,188.09" fill="rgb(96, 115, 160)"/>
<polygon points="399.68,191.11 397.07,192.62 394.46,191.11 394.46,188.09 397.07,186.58 399.68,188.09" fill="rgb(103, 121, 164)"/>
<polygon points="404.19,191.11 401.57,192.62 398.96,191.11 398.96,188.09 401.57,186.58 404.19,188.09" fill="rgb(130, 143, 180)"/>
<polygon points="408.69,191.11 406.08,192.62 403.46,191.11 403.46,188.09 406.08,186.58 408.69,188.09" fill="rgb(158, 167, 197)"/>
<polygon points="307.36,195.01 304.75,196.52 302.14,195.01 302.14,191.99 304.75,190.48 307.36,191.99" fill="rgb(200, 202, 223)"/>
<polygon points="311.87,195.01 309.25,196.52 306.64,195.01 306.64,191.99 309.25,190.48 311.87,191.99" fill="rgb(200, 202, 223)"/>
<polygon points="316.37,195.01 313.76,196.52 311.15,195.01 311.15,191.99 313.76,190.48 316.37,191.99" fill="rgb(200, 202, 223)"/>
<polygon points="320.87,195.01 318.26,196.52 315.65,195.01 315.65,191.99 318.26,190.48 320.87,191.99" fill="rgb(200, 202, 223)"/>
<polygon points="325.38,195.01 322.76,196.52 320.15,195.01 320.15,191.99 322.76,190.48 325.38,191.99" fill="rgb(200, 202, 223)"/>
<polygon points="329.88,195.01 327.27,196.52 324.66,195.01 324.66,191.99 327.27,190.48 329.88,191.99" fill="rgb(200, 202, 223)"/>
<polygon points="334.38,195.01 331.77,196.52 329.16,195.01 329.16,191.99 331.77,190.48 334.38,191.99" fill="rgb(199, 201, 222)"/>
<polygon points="338.89,195.01 336.27,196.52 333.66,195.01 333.66,191.99 336.27,190.48 338.89,191.99" fill="rgb(197, 199, 221)"/>
<polygon points="343.39,195.01 340.78,196.52 338.17,195.01 338.17,191.99 340.78,190.48 343.39,191.99" fill="rgb(195, 198, 220)"/>
<polygon points="347.89,195.01 345.28,196.52 342.67,195.01 342.67,191.99 345.28,190.48 347.89,191.99" fill="rgb(193, 196, 218)"/>
<polygon points="352.40,195.01 349.78,196.52 347.17,195.01 347.17,191.99 349.78,190.48 352.40,191.99" fill="rgb(191, 195, 218)"/>
<polygon points="356.90,195.01 354.29,196.52 351.68,195.01 351.68,191.99 354.29,190.48 356.90,191.99" fill="rgb(190, 194, 217)"/>
<polygon points="361.40,195.01 358.79,196.52 356.18,195.01 356.18,191.99 358.79,190.48 361.40,191.99" fill="rgb(189, 193, 216)"/>
<polygon points="365.91,195.01 363.29,196.52 360.68,195.01 360.68,191.99 363.29,190.48 365.91,191.99" fill="rgb(188, 192, 215)"/>
<polygon points="370.41,195.01 367.80,196.52 365.19,195.01 365.19,191.99 367.80,190.48 370.41,191.99" fill="rgb(184, 189, 213)"/>
<polygon points="374.91,195.01 372.30,196.52 369.69,195.01 369.69,191.99 372.30,190.48 374.91,191.99" fill="rgb(178, 184, 210)"/>
<polygon points="379.42,195.01 376.80,196.52 374.19,195.01 374.19,191.99 376.80,190.48 379.42,191.99" fill="rgb(170, 177, 205)"/>
<polygon points="383.92,195.01 381.31,196.52 378.70,195.01 378.70,191.99 381.31,190.48 383.92,191.99" fill="rgb(160, 169, 199)"/>
<polygon points="388.42,195.01 385.81,196.52 383.20,195.01 383.20,191.99 385.81,190.48 388.42,191.99" fill="rgb(146, 157, 190)"/>
<polygon points="392.93,195.01 390.31,196.52 387.70,195.01 387.70,191.99 390.31,190.48 392.93,191.99" fill="rgb(131, 144, 181)"/>
<polygon points="397.43,195.01 394.82,196.52 392.21,195.01 392.21,191.99 394.82,190.48 397.43,191.99" fill="rgb(125, 139, 177)"/>
<polygon points="401.93,195.01 399.32,196.52 396.71,195.01 396.71,191.99 399.32,190.48 401.93,191.99" fill="rgb(135, 148, 183)"/>
<polygon points="406.44,195.01 403.82,196.52 401.21,195.01 401.21,191.99 403.82,190.48 406.44,191.99" fill="rgb(155, 165, 196)"/>
<polygon points="305.11,198.91 302.50,200.42 299.89,198.91 299.89,195.89 302.50,194.38 305.11,195.89" fill="rgb(200, 202, 223)"/>
<polygon points="309.62,198.91 307.00,200.42 304.39,198.91 304.39,195.89 307.00,194.38 309.62,195.89" fill="rgb(200, 202, 223)"/>
<polygon points="314.12,198.91 311.51,200.42 308.89,198.91 308.89,195.89 311.51,194.38 314.12,195.89" fill="rgb(200, 202, 223)"/>
<polygon points="318.62,198.91 316.01,200.42 313.40,198.91 313.40,195.89 316.01,194.38 318.62,195.89" fill="rgb(200, 202, 223)"/>
<polygon points="323.13,198.91 320.51,200.42 317.90,198.91 317.90,195.89 320.51,194.38 323.13,195.89" fill="rgb(200, 202, 223)"/>
<polygon points="327.63,198.91 325.02,200.42 322.40,198.91 322.40,195.89 325.02,194.38 327.63,195.89" fill="rgb(200, 202, 223)"/>
<polygon points="332.13,198.91 329.52,200.42 326.91,198.91 326.91,195.89 329.52,194.38 332.13,195.89" fill="rgb(199, 201, 222)"/>
<polygon points="336.64,198.91 334.02,200.42 331.41,198.91 331.41,195.89 334.02,194.38 336.64,195.89" fill="rgb(197, 200, 221)"/>
<polygon points="341.14,198.91 338.53,200.42 335.91,198.91 335.91,195.89 338.53,194.38 341.14,195.89" fill="rgb(195, 198, 220)"/>
<polygon points="345.64,198.91 343.03,200.42 340.42,198.91 340.42,195.89 343.03,194.38 345.64,195.89" fill="rgb(194, 197, 219)"/>
<polygon points="350.15,198.91 347.53,200.42 344.92,198.91 344.92,195.89 347.53,194.38 350.15,195.89" fill="rgb(193, 196, 219)"/>
<polygon points="354.65,198.91 352.04,200.42 349.42,198.91 349.42,195.89 352.04,194.38 354.65,195.89" fill="rgb(193, 196, 218)"/>
<polygon points="359.15,198.91 356.54,200.42 353.93,198.91 353.93,195.89 356.54,194.38 359.15,195.89" fill="rgb(193, 196, 218)"/>
<polygon points="363.66,198.91 361.04,200.42 358.43,198.91 358.43,195.89 361.04,194.38 363.66,195.89" fill="rgb(193, 196, 218)"/>
<polygon points="368.16,198.91 365.55,200.42 362.93,198.91 362.93,195.89 365.55,194.38 368.16,195.89" fill="rgb(191, 195, 217)"/>
<polygon points="372.66,198.91 370.05,200.42 367.44,198.91 367.44,195.89 370.05,194.38 372.66,195.89" fill="rgb(188, 192, 216)"/>
<polygon points="377.17,198.91 374.55,200.42 371.94,198.91 371.94,195.89 374.55,194.38 377.17,195.89" fill="rgb(183, 188, 212)"/>
<polygon points="381.67,198.91 379.06,200.42 376.44,198.91 376.44,195.89 379.06,194.38 381.67,195.89" fill="rgb(176, 182, 208)"/>
<polygon points="386.17,198.91 383.56,200.42 380.95,198.91 380.95,195.89 383.56,194.38 386.17,195.89" fill="rgb(167, 175, 203)"/>
<polygon points="390.68,198.91 388.06,200.42 385.45,198.91 385.45,195.89 388.06,194.38 390.68,195.89" fill="rgb(158, 167, 197)"/>
<polygon points="395.18,198.91 392.57,200.42 389.95,198.91 389.95,195.89 392.57,194.38 395.18,195.89" fill="rgb(150, 160, 192)"/>
<polygon points="399.68,198.91 397.07,200.42 394.46,198.91 394.46,195.89 397.07,194.38 399.68,195.89" fill="rgb(150, 160, 192)"/>
<polygon points="404.19,198.91 401.57,200.42 398.96,198.91 398.96,195.89 401.57,194.38 404.19,195.89" fill="rgb(160, 168, 198)"/>
<polygon points="408.69,198.91 406.08,200.42 403.46,198.91 403.46,195.89 406.08,194.38 408.69,195.89" fill="rgb(174, 180, 207)"/>
<polygon points="307.36,202.81 304.75,204.32 302.14,202.81 302.14,199.79 304.75,198.28 307.36,199.79" fill="rgb(200, 202, 223)"/>
<polygon points="311.87,202.81 309.25,204.32 306.64,202.81 306.64,199.79 309.25,198.28 311.87,199.79" fill="rgb(200, 202, 223)"/>
<polygon points="316.37,202.81 313.76,204.32 311.15,202.81 311.15,199.79 313.76,198.28 316.37,199.79" fill="rgb(200, 202, 223)"/>
<polygon points="320.87,202.81 318.26,204.32 315.65,202.81 315.65,199.79 318.26,198.28 320.87,199.79" fill="rgb(200, 202, 223)"/>
<polygon points="325.38,202.81 322.76,204.32 320.15,202.81 320.15,199.79 322.76,198.28 325.38,199.79" fill="rgb(200, 202, 223)"/>
<polygon points="329.88,202.81 327.27,204.32 324.66,202.81 324.66,199.79 327.27,198.28 329.88,199.79" fill="rgb(199, 201, 222)"/>
<polygon points="334.38,202.81 331.77,204.32 329.16,202.81 329.16,199.79 331.77,198.28 334.38,199.79" fill="rgb(198, 201, 222)"/>
<polygon points="338.89,202.81 336.27,204.32 333.66,202.81 333.66,199.79 336.27,198.28 338.89,199.79" fill="rgb(197, 200, 221)"/>
<polygon points="343.39,202.81 340.78,204.32 338.17,202.81 338.17,199.79 340.78,198.28 343.39,199.79" fill="rgb(196, 199, 221)"/>
<polygon points="347.89,202.81 345.28,204.32 342.67,202.81 342.67,199.79 345.28,198.28 347.89,199.79" fill="rgb(196, 199, 220)"/>
<polygon points="352.40,202.81 349.78,204.32 347.17,202.81 347.17,199.79 349.78,198.28 352.40,199.79" fill="rgb(196, 199, 220)"/>
<polygon points="356.90,202.81 354.29,204.32 351.68,202.81 351.68,199.79 354.29,198.28 356.90,199.79" fill="rgb(196, 199, 221)"/>
<polygon points="361.40,202.81 358.79,204.32 356.18,202.81 356.18,199.79 358.79,198.28 361.40,199.79" fill="rgb(197, 199, 221)"/>
<polygon points="365.91,202.81 363.29,204.32 360.68,202.81 360.68,199.79 363.29,198.28 365.91,199.79" fill="rgb(197, 199, 221)"/>
<polygon points="370.41,202.81 367.80,204.32 365.19,202.81 365.19,199.79 367.80,198.28 370.41,199.79" fill="rgb(195, 198, 220)"/>
<polygon points="374.91,202.81 372.30,204.32 369.69,202.81 369.69,199.79 372.30,198.28 374.91,199.79" fill="rgb(193, 196, 218)"/>
<polygon points="379.42,202.81 376.80,204.32 374.19,202.81 374.19,199.79 376.80,198.28 379.42,199.79" fill="rgb(188, 192, 215)"/>
<polygon points="383.92,202.81 381.31,204.32 378.70,202.81 378.70,199.79 381.31,198.28 383.92,199.79" fill="rgb(182, 187, 212)"/>
<polygon points="388.42,202.81 385.81,204.32 383.20,202.81 383.20,199.79 385.81,198.28 388.42,199.79" fill="rgb(176, 182, 208)"/>
<polygon points="392.93,202.81 390.31,204.32 387.70,202.81 387.70,199.79 390.31,198.28 392.93,199.79" fill="rgb(170, 177, 205)"/>
<polygon points="397.43,202.81 394.82,204.32 392.21,202.81 392.21,199.79 394.82,198.28 397.43,199.79" fill="rgb(167, 175, 203)"/>
<polygon points="401.93,202.81 399.32,204.32 396.71,202.81 396.71,199.79 399.32,198.28 401.93,199.79" fill="rgb(170, 177, 204)"/>
<polygon points="406.44,202.81 403.82,204.32 401.21,202.81 401.21,199.79 403.82,198.28 406.44,199.79" fill="rgb(177, 183, 209)"/>
<polygon points="410.94,202.81 408.33,204.32 405.72,202.81 405.72,199.79 408.33,198.28 410.94,199.79" fill="rgb(186, 191, 214)"/>
<polygon points="305.11,206.71 302.50,208.22 299.89,206.71 299.89,203.69 302.50,202.18 305.11,203.69" fill="rgb(200, 202, 223)"/>
<polygon points="309.62,206.71 307.00,208.22 304.39,206.71 304.39,203.69 307.00,202.18 309.62,203.69" fill="rgb(200, 202, 223)"/>
<polygon points="314.12,206.71 311.51,208.22 308.89,206.71 308.89,203.69 311.51,202.18 314.12,203.69" fill="rgb(200, 202, 223)"/>
<polygon points="318.62,206.71 316.01,208.22 313.40,206.71 313.40,203.69 316.01,202.18 318.62,203.69" fill="rgb(200, 202, 223)"/>
<polygon points="323.13,206.71 320.51,208.22 317.90,206.71 317.90,203.69 320.51,202.18 323.13,203.69" fill="rgb(200, 202, 223)"/>
<polygon points="327.63,206.71 325.02,208.22 322.40,206.71 322.40,203.69 325.02,202.18 327.63,203.69" fill="rgb(200, 202, 223)"/>
<polygon points="332.13,206.71 329.52,208.22 326.91,206.71 326.91,203.69 329.52,202.18 332.13,203.69" fill="rgb(199, 201, 222)"/>
<polygon points="336.64,206.71 334.02,208.22 331.41,206.71 331.41,203.69 334.02,202.18 336.64,203.69" fill="rgb(199, 201, 222)"/>
<polygon points="341.14,206.71 338.53,208.22 335.91,206.71 335.91,203.69 338.53,202.18 341.14,203.69" fill="rgb(199, 201, 222)"/>
<polygon points="345.64,206.71 343.03,208.22 340.42,206.71 340.42,203.69 343.03,202.18 345.64,203.69" fill="rgb(199, 201, 222)"/>
<polygon points="350.15,206.71 347.53,208.22 344.92,206.71 344.92,203.69 347.53,202.18 350.15,203.69" fill="rgb(199, 201, 222)"/>
<polygon points="354.65,206.71 352.04,208.22 349.42,206.71 349.42,203.69 352.04,202.18 354.65,203.69" fill="rgb(199, 201, 222)"/>
<polygon points="359.15,206.71 356.54,208.22 353.93,206.71 353.93,203.69 356.54,202.18 359.15,203.69" fill="rgb(199, 201, 222)"/>
<polygon points="363.66,206.71 361.04,208.22 358.43,206.71 358.43,203.69 361.04,202.18 363.66,203.69" fill="rgb(199, 201, 222)"/>
<polygon points="368.16,206.71 365.55,208.22 362.93,206.71 362.93,203.69 365.55,202.18 368.16,203.69" fill="rgb(199, 201, 222)"/>
<polygon points="372.66,206.71 370.05,208.22 367.44,206.71 367.44,203.69 370.05,202.18 372.66,203.69" fill="rgb(198, 201, 222)"/>
<polygon points="377.17,206.71 374.55,208.22 371.94,206.71 371.94,203.69 374.55,202.18 377.17,203.69" fill="rgb(197, 199, 221)"/>
<polygon points="381.67,206.71 379.06,208.22 376.44,206.71 376.44,203.69 379.06,202.18 381.67,203.69" fill="rgb(193, 196, 219)"/>
<polygon points="386.17,206.71 383.56,208.22 380.95,206.71 380.95,203.69 383.56,202.18 386.17,203.69" fill="rgb(189, 192, 216)"/>
<polygon points="390.68,206.71 388.06,208.22 385.45,206.71 385.45,203.69 388.06,202.18 390.68,203.69" fill="rgb(184, 189, 213)"/>
<polygon points="395.18,206.71 392.57,208.22 389.95,206.71 389.95,203.69 392.57,202.18 395.18,203.69" fill="rgb(181, 186, 211)"/>
<polygon points="399.68,206.71 397.07,208.22 394.46,206.71 394.46,203.69 397.07,202.18 399.68,203.69" fill="rgb(181, 186, 211)"/>
<polygon points="404.19,206.71 401.57,208.22 398.96,206.71 398.96,203.69 401.57,202.18 404.19,203.69" fill="rgb(184, 188, 213)"/>
<polygon points="408.69,206.71 406.08,208.22 403.46,206.71 403.46,203.69 406.08,202.18 408.69,203.69" fill="rgb(189, 193, 216)"/>
<polygon points="307.36,210.61 304.75,212.12 302.14,210.61 302.14,207.59 304.75,206.08 307.36,207.59" fill="rgb(200, 202, 223)"/>
<polygon points="311.87,210.61 309.25,212.12 306.64,210.61 306.64,207.59 309.25,206.08 311.87,207.59" fill="rgb(200, 202, 223)"/>
<polygon points="316.37,210.61 313.76,212.12 311.15,210.61 311.15,207.59 313.76,206.08 316.37,207.59" fill="rgb(200, 202, 223)"/>
<polygon points="320.87,210.61 318.26,212.12 315.65,210.61 315.65,207.59 318.26,206.08 320.87,207.59" fill="rgb(200, 202, 223)"/>
<polygon points="325.38,210.61 322.76,212.12 320.15,210.61 320.15,207.59 322.76,206.08 325.38,207.59" fill="rgb(200, 202, 223)"/>
<polygon points="329.88,210.61 327.27,212.12 324.66,210.61 324.66,207.59 327.27,206.08 329.88,207.59" fill="rgb(200, 202, 223)"/>
<polygon points="334.38,210.61 331.77,212.12 329.16,210.61 329.16,207.59 331.77,206.08 334.38,207.59" fill="rgb(200, 202, 223)"/>
<polygon points="338.89,210.61 336.27,212.12 333.66,210.61 333.66,207.59 336.27,206.08 338.89,207.59" fill="rgb(200, 202, 223)"/>
<polygon points="343.39,210.61 340.78,212.12 338.17,210.61 338.17,207.59 340.78,206.08 343.39,207.59" fill="rgb(200, 202, 223)"/>
<polygon points="347.89,210.61 345.28,212.12 342.67,210.61 342.67,207.59 345.28,206.08 347.89,207.59" fill="rgb(200, 202, 223)"/>
<polygon points="352.40,210.61 349.78,212.12 347.17,210.61 347.17,207.59 349.78,206.08 352.40,207.59" fill="rgb(200, 202, 223)"/>
<polygon points="356.90,210.61 354.29,212.12 351.68,210.61 351.68,207.59 354.29,206.08 356.90,207.59" fill="rgb(200, 202, 223)"/>
<polygon points="361.40,210.61 358.79,212.12 356.18,210.61 356.18,207.59 358.79,206.08 361.40,207.59" fill="rgb(200, 202, 223)"/>
<polygon points="365.91,210.61 363.29,212.12 360.68,210.61 360.68,207.59 363.29,206.08 365.91,207.59" fill="rgb(200, 202, 223)"/>
<polygon points="370.41,210.61 367.80,212.12 365.19,210.61 365.19,207.59 367.80,206.08 370.41,207.59" fill="rgb(200, 202, 223)"/>
<polygon points="374.91,210.61 372.30,212.12 369.69,210.61 369.69,207.59 372.30,206.08 374.91,207.59" fill="rgb(200, 202, 223)"/>
<polygon points="379.42,210.61 376.80,212.12 374.19,210.61 374.19,207.59 376.80,206.08 379.42,207.59" fill="rgb(199, 201, 222)"/>
<polygon points="383.92,210.61 381.31,212.12 378.70,210.61 378.70,207.59 381.31,206.08 383.92,207.59" fill="rgb(197, 200, 221)"/>
<polygon points="388.42,210.61 385.81,212.12 383.20,210.61 383.20,207.59 385.81,206.08 388.42,207.59" fill="rgb(195, 197, 220)"/>
<polygon points="392.93,210.61 390.31,212.12 387.70,210.61 387.70,207.59 390.31,206.08 392.93,207.59" fill="rgb(192, 195, 218)"/>
<polygon points="397.43,210.61 394.82,212.12 392.21,210.61 392.21,207.59 394.82,206.08 397.43,207.59" fill="rgb(191, 194, 217)"/>
<polygon points="401.93,210.61 399.32,212.12 396.71,210.61 396.71,207.59 399.32,206.08 401.93,207.59" fill="rgb(191, 195, 217)"/>
<polygon points="406.44,210.61 403.82,212.12 401.21,210.61 401.21,207.59 403.82,206.08 406.44,207.59" fill="rgb(194, 197, 219)"/>
<polygon points="309.62,214.51 307.00,216.02 304.39,214.51 304.39,211.49 307.00,209.98 309.62,211.49" fill="rgb(200, 202, 223)"/>
<polygon points="314.12,214.51 311.51,216.02 308.89,214.51 308.89,211.49 311.51,209.98 314.12,211.49" fill="rgb(200, 202, 223)"/>
<polygon points="318.62,214.51 316.01,216.02 313.40,214.51 313.40,211.49 316.01,209.98 318.62,211.49" fill="rgb(200, 202, 223)"/>
<polygon points="323.13,214.51 320.51,216.02 317.90,214.51 317.90,211.49 320.51,209.98 323.13,211.49" fill="rgb(200, 202, 223)"/>
<polygon points="332.13,214.51 329.52,216.02 326.91,214.51 326.91,211.49 329.52,209.98 332.13,211.49" fill="rgb(200, 202, 223)"/>
<polygon points="336.64,214.51 334.02,216.02 331.41,214.51 331.41,211.49 334.02,209.98 336.64,211.49" fill="rgb(200, 202, 223)"/>
<polygon points="341.14,214.51 338.53,216.02 335.91,214.51 335.91,211.49 338.53,209.98 341.14,211.49" fill="rgb(200, 202, 223)"/>
<polygon points="345.64,214.51 343.03,216.02 340.42,214.51 340.42,211.49 343.03,209.98 345.64,211.49" fill="rgb(200, 202, 223)"/>
<polygon points="354.65,214.51 352.04,216.02 349.42,214.51 349.42,211.49 352.04,209.98 354.65,211.49" fill="rgb(200, 202, 223)"/>
<polygon points="368.16,214.51 365.55,216.02 362.93,214.51 362.93,211.49 365.55,209.98 368.16,211.49" fill="rgb(200, 202, 223)"/>
<polygon points="377.17,214.51 374.55,216.02 371.94,214.51 371.94,211.49 374.55,209.98 377.17,211.49" fill="rgb(200, 202, 223)"/>
<polygon points="386.17,214.51 383.56,216.02 380.95,214.51 380.95,211.49 383.56,209.98 386.17,211.49" fill="rgb(199, 201, 222)"/>
<polygon points="399.68,214.51 397.07,216.02 394.46,214.51 394.46,211.49 397.07,209.98 399.68,211.49" fill="rgb(197, 200, 221)"/>
</g>
<text transform="translate(450,180) scale(1,1.0)" font-size="6.75" fill="#86375a" stroke="#86375a" stroke-width="0.1" text-anchor="end" font-weight="normal" >0.1 RPKM</text>
<path d="M312,95.5 L312,94.7 L317.5,94.7 L317.5,93.4 L322,93.4 L322,91.3 L326,91.3 L326,88 L329,88 L329,86 L332.3,86 L332.3,82.6 L335.7,82.6 L335.7,75.9 L339.7,75.9 L339.7,78.6 L342.4,78.6 L342.4,75 L346.4,75 L346.4,77.9 L350.5,77.9 L350.5,79.2 L353.8,79.2 L353.8,76.5 L355.9,76.5 L355.9,72.5 L359.2,72.5 L359.2,75.2 L362.6,75.2 L362.6,77.2 L366.6,77.2 L366.6,95.5 Z" fill="#c9c9cd" />
<path d="M366,95.5 L366,74.4 L373,74.4 L373,95.5 Z" fill="#aa0c38" />
<path d="M373.00,95.5 L373.00,78.25 L375.00,78.25 L375.00,77.97 L377.00,77.97 L377.00,77.91 L379.00,77.91 L379.00,77.86 L381.00,77.86 L381.00,77.80 L383.00,77.80 L383.00,79.19 L385.00,79.19 L385.00,80.66 L387.00,80.66 L387.00,82.12 L389.00,82.12 L389.00,83.58 L391.00,83.58 L391.00,84.99 L393.00,84.99 L393.00,86.39 L395.00,86.39 L395.00,87.80 L397.00,87.80 L397.00,88.82 L399.00,88.82 L399.00,89.83 L401.00,89.83 L401.00,90.85 L403.00,90.85 L403.00,91.57 L405.00,91.57 L405.00,92.19 L407.00,92.19 L407.00,92.82 L409.00,92.82 L409.00,93.32 L411.00,93.32 L411.00,93.73 L413.00,93.73 L413.00,94.14 L415.00,94.14 L415.00,94.47 L417.00,94.47 L417.00,94.65 L419.00,94.65 L419.00,94.84 L421.00,94.84 L421.00,95.01 L423.00,95.01 L423.00,95.08 L425.00,95.08 L425.00,95.16 L427.00,95.16 L427.00,95.23 L429.00,95.23 L429.00,95.30 L431.00,95.30 L431.00,95.31 L433.00,95.31 L433.00,95.33 L435.00,95.33 L435.00,95.34 L437.00,95.34 L437.00,95.35 L439.00,95.35 L439.00,95.37 L441.00,95.37 L441.00,95.38 L443.00,95.38 L443.00,95.39 L445.00,95.39 L445.00,95.5 Z" fill="#aa0c38" />
<path d="M374.5,80 L374.50,78.59 L376.00,78.59 L376.00,69.80 L377.50,69.80 L377.50,63.80 L379.00,63.80 L379.00,58.34 L380.50,58.34 L380.50,54.65 L382.00,54.65 L382.00,50.59 L383.50,50.59 L383.50,47.44 L385.00,47.44 L385.00,48.47 L386.50,48.47 L386.50,47.36 L388.00,47.36 L388.00,51.68 L389.50,51.68 L389.50,58.95 L391.00,58.95 L391.00,67.80 L392.50,67.80 L392.50,73.46 L394.00,73.46 L394.00,78.34 L395.50,78.34 L395.50,82.72 L397.00,82.72 L397.00,86.70 L398.50,86.70 L398.5,89.3 L389.6,84.1 L383.2,79.4 L375,78.8 Z" fill="#304c7c" />
<text transform="translate(440.5,79.4) scale(1,1.06)" font-size="9" fill="#1a1a1a" stroke="#1a1a1a" stroke-width="0.22" text-anchor="start" font-weight="normal" >Transcript fraction</text>
<line x1="451.5" y1="101.5" x2="498.5" y2="101.5" stroke="#1a1a1a" stroke-width="1.4"/>
<line x1="455" y1="98.3" x2="455" y2="101.5" stroke="#1a1a1a" stroke-width="1.4"/>
<text transform="translate(455,92.7) scale(1,1.06)" font-size="8.3" fill="#1a1a1a" stroke="#1a1a1a" stroke-width="0.15" text-anchor="middle" font-weight="normal" >0.0</text>
<line x1="475.6" y1="98.3" x2="475.6" y2="101.5" stroke="#1a1a1a" stroke-width="1.4"/>
<text transform="translate(475.6,92.7) scale(1,1.06)" font-size="8.3" fill="#1a1a1a" stroke="#1a1a1a" stroke-width="0.15" text-anchor="middle" font-weight="normal" >0.1</text>
<line x1="496.2" y1="98.3" x2="496.2" y2="101.5" stroke="#1a1a1a" stroke-width="1.4"/>
<text transform="translate(496.2,92.7) scale(1,1.06)" font-size="8.3" fill="#1a1a1a" stroke="#1a1a1a" stroke-width="0.15" text-anchor="middle" font-weight="normal" >0.2</text>
<path d="M455.5,108.3 L456.07,108.30 L456.07,109.90 L456.22,109.90 L456.22,111.50 L456.37,111.50 L456.37,113.10 L456.52,113.10 L456.52,114.70 L456.67,114.70 L456.67,116.30 L456.82,116.30 L456.82,117.90 L456.97,117.90 L456.97,119.50 L457.26,119.50 L457.26,121.10 L457.57,121.10 L457.57,122.70 L457.89,122.70 L457.89,124.30 L458.20,124.30 L458.20,125.90 L458.85,125.90 L458.85,127.50 L459.65,127.50 L459.65,129.10 L460.45,129.10 L460.45,130.70 L461.25,130.70 L461.25,132.30 L462.38,132.30 L462.38,133.90 L463.66,133.90 L463.66,135.50 L464.94,135.50 L464.94,137.10 L466.22,137.10 L466.22,138.70 L467.39,138.70 L467.39,140.30 L468.50,140.30 L468.50,141.90 L469.61,141.90 L469.61,143.50 L470.72,143.50 L470.72,145.10 L472.44,145.10 L472.44,146.70 L474.65,146.70 L474.65,148.30 L476.62,148.30 L476.62,149.90 L477.92,149.90 L477.92,151.50 L479.21,151.50 L479.21,153.10 L480.51,153.10 L480.51,154.70 L481.81,154.70 L481.81,156.30 L483.12,156.30 L483.12,157.90 L484.43,157.90 L484.43,159.50 L485.66,159.50 L485.66,161.10 L486.50,161.10 L486.50,162.70 L487.34,162.70 L487.34,164.30 L487.15,164.30 L487.15,165.90 L486.50,165.90 L486.50,167.50 L485.53,167.50 L485.53,169.10 L484.56,169.10 L484.56,170.70 L484.30,170.70 L484.30,172.30 L484.09,172.30 L484.09,173.70 L455.5,173.7 Z" fill="#304c7c" />
<path d="M455.5,147 L456.68,147.00 L456.68,148.60 L456.84,148.60 L456.84,150.20 L457.00,150.20 L457.00,151.80 L457.16,151.80 L457.16,153.40 L457.32,153.40 L457.32,155.00 L457.48,155.00 L457.48,156.60 L457.93,156.60 L457.93,158.20 L459.24,158.20 L459.24,159.80 L460.34,159.80 L460.34,161.40 L460.53,161.40 L460.53,163.00 L460.73,163.00 L460.73,164.60 L460.93,164.60 L460.93,166.20 L461.67,166.20 L461.67,167.80 L462.73,167.80 L462.73,169.40 L465.57,169.40 L465.57,171.00 L469.00,171.00 L469.00,172.60 L471.86,172.60 L471.86,174.20 L472.40,174.20 L472.40,175.80 L472.40,175.80 L472.40,176.30 L455.5,176.3 Z" fill="#aa0c38" />
<path d="M455.5,176.4 L473,176.4 L473,182 L488,182 L488,186 L492,186 L492,188.5 L505,188.5 L505,191 L508,191 L508,195 L492,195 L492,199 L473,199 L473,201.5 L463.5,201.5 L463.5,204 L460,204 L460,207 L457.7,207 L457.7,210 L456.4,210 L456.4,212.5 L455.5,212.5 Z" fill="#c9c9cd" />
<text transform="translate(7.5,278.6) scale(1,1.1)" font-size="11" fill="#111" text-anchor="start" font-weight="bold" >C</text>
<text transform="translate(24.5,289.25) scale(1,1.0)" font-size="9" fill="#111" text-anchor="start" font-weight="bold" >Primary PLT / MK Ratio</text>
<path d="M63.6,423.5 L63.6,423 L73.2,423 L73.2,422 L80.7,422 L80.7,418.8 L83.9,418.8 L83.9,414.5 L87.1,414.5 L87.1,409.6 L90.3,409.6 L90.3,399.5 L94.6,399.5 L94.6,387.3 L97.8,387.3 L97.8,371.7 L101,371.7 L101,364.2 L104.2,364.2 L104.2,357.8 L108,357.8 L108,350.3 L111.7,350.3 L111.7,341.8 L114.9,341.8 L114.9,345 L119.2,345 L119.2,346 L121.7,346 L121.7,344.5 L124.9,344.5 L124.9,355.3 L128.2,355.3 L128.2,368.2 L131.3,368.2 L131.3,382.4 L134.6,382.4 L134.6,387 L138.4,387 L138.4,393 L141.6,393 L141.6,401.2 L144.7,401.2 L144.7,409.4 L148.2,409.4 L148.2,414.1 L151.8,414.1 L151.8,416.5 L155.3,416.5 L155.3,420 L162.4,420 L162.4,421.4 L170.6,421.4 L170.6,422.2 L180,422.2 L180,422.4 L201,422.4 L201,423.5 Z" fill="#304c7c" />
<polyline points="106.00,424.30 106.25,424.30 106.50,424.30 106.75,424.30 107.00,424.30 107.25,424.30 107.50,424.30 107.75,424.30 108.00,424.30 108.25,424.30 108.50,424.30 108.75,424.30 109.00,424.30 109.25,424.30 109.50,424.30 109.75,424.30 110.00,424.30 110.25,424.30 110.50,424.30 110.75,424.29 111.00,424.29 111.25,424.29 111.50,424.29 111.75,424.29 112.00,424.29 112.25,424.29 112.50,424.29 112.75,424.29 113.00,424.28 113.25,424.28 113.50,424.28 113.75,424.28 114.00,424.27 114.25,424.27 114.50,424.27 114.75,424.26 115.00,424.26 115.25,424.25 115.50,424.24 115.75,424.24 116.00,424.23 116.25,424.22 116.50,424.21 116.75,424.20 117.00,424.18 117.25,424.17 117.50,424.15 117.75,424.13 118.00,424.10 118.25,424.08 118.50,424.05 118.75,424.02 119.00,423.98 119.25,423.94 119.50,423.89 119.75,423.83 120.00,423.77 120.25,423.70 120.50,423.62 120.75,423.53 121.00,423.43 121.25,423.32 121.50,423.19 121.75,423.05 122.00,422.89 122.25,422.70 122.50,422.50 122.75,422.26 123.00,422.00 123.25,421.70 123.50,421.36 123.75,420.98 124.00,420.56 124.25,420.08 124.50,419.54 124.75,418.93 125.00,418.24 125.25,417.47 125.50,416.60 125.75,415.63 126.00,414.53 126.25,413.29 126.50,411.91 126.75,410.35 127.00,408.61 127.25,406.65 127.50,404.45 127.75,402.00 128.00,399.24 128.25,396.16 128.50,392.71 128.75,388.86 129.00,384.57 129.25,379.78 129.50,374.45 129.75,368.52 130.00,361.95 130.25,354.67 130.50,346.65 130.75,337.85 131.00,328.30 131.25,318.22 131.50,324.30 131.75,334.12 132.00,343.23 132.25,351.56 132.50,359.12 132.75,365.97 133.00,372.15 133.25,377.72 133.50,382.72 133.75,387.20 134.00,391.23 134.25,394.83 134.50,398.05 134.75,400.93 135.00,403.50 135.25,405.80 135.50,407.85 135.75,409.68 136.00,411.31 136.25,412.76 136.50,414.05 136.75,415.20 137.00,416.22 137.25,417.13 137.50,417.94 137.75,418.66 138.00,419.30 138.25,419.87 138.50,420.37 138.75,420.82 139.00,421.22 139.25,421.57 139.50,421.88 139.75,422.16 140.00,422.40 140.25,422.62 140.50,422.82 140.75,422.99 141.00,423.14 141.25,423.27 141.50,423.39 141.75,423.50 142.00,423.59 142.25,423.67 142.50,423.74 142.75,423.81 143.00,423.87 143.25,423.92 143.50,423.96 143.75,424.00 144.00,424.04 144.25,424.07 144.50,424.09 144.75,424.12 145.00,424.14 145.25,424.16 145.50,424.18 145.75,424.19 146.00,424.20 146.25,424.21 146.50,424.22 146.75,424.23 147.00,424.24 147.25,424.25 147.50,424.25 147.75,424.26 148.00,424.26 148.25,424.27 148.50,424.27 148.75,424.28 149.00,424.28 149.25,424.28 149.50,424.28 149.75,424.29 150.00,424.29 150.25,424.29 150.50,424.29 150.75,424.29 151.00,424.29 151.25,424.29 151.50,424.29 151.75,424.29 152.00,424.30" fill="none" stroke="#a01242" stroke-width="1.5"/>
<line x1="53.3" y1="301.4" x2="53.3" y2="425" stroke="#364a70" stroke-width="1.4"/>
<line x1="50.3" y1="305.0" x2="53.3" y2="305.0" stroke="#364a70" stroke-width="1.4"/>
<text transform="translate(46.9,307.7) scale(1,1.08)" font-size="8.2" fill="#545d7a" stroke="#545d7a" stroke-width="0.12" text-anchor="end" font-weight="normal" >0.5</text>
<line x1="50.3" y1="364.4" x2="53.3" y2="364.4" stroke="#364a70" stroke-width="1.4"/>
<text transform="translate(46.9,367.09999999999997) scale(1,1.08)" font-size="8.2" fill="#545d7a" stroke="#545d7a" stroke-width="0.12" text-anchor="end" font-weight="normal" >0.25</text>
<line x1="50.3" y1="423.8" x2="53.3" y2="423.8" stroke="#364a70" stroke-width="1.4"/>
<text transform="translate(46.9,426.5) scale(1,1.08)" font-size="8.2" fill="#545d7a" stroke="#545d7a" stroke-width="0.12" text-anchor="end" font-weight="normal" >0</text>
<text transform="translate(24.3,364) rotate(-90) scale(1,1.06)" font-size="9" fill="#52608a" stroke="#52608a" stroke-width="0.22" text-anchor="middle">Fraction of transcripts</text>
<line x1="206" y1="302.6" x2="206" y2="426" stroke="#8a1f45" stroke-width="1.4"/>
<line x1="206" y1="304.0" x2="208.6" y2="304.0" stroke="#8a1f45" stroke-width="1.4"/>
<text transform="translate(211.6,306.9) scale(1,1.08)" font-size="8.2" fill="#6a4058" stroke="#6a4058" stroke-width="0.12" text-anchor="start" font-weight="normal" >2.5</text>
<line x1="206" y1="328.1" x2="208.6" y2="328.1" stroke="#8a1f45" stroke-width="1.4"/>
<text transform="translate(211.6,331.0) scale(1,1.08)" font-size="8.2" fill="#6a4058" stroke="#6a4058" stroke-width="0.12" text-anchor="start" font-weight="normal" >2</text>
<line x1="206" y1="352.2" x2="208.6" y2="352.2" stroke="#8a1f45" stroke-width="1.4"/>
<text transform="translate(211.6,355.09999999999997) scale(1,1.08)" font-size="8.2" fill="#6a4058" stroke="#6a4058" stroke-width="0.12" text-anchor="start" font-weight="normal" >1.5</text>
<line x1="206" y1="376.3" x2="208.6" y2="376.3" stroke="#8a1f45" stroke-width="1.4"/>
<text transform="translate(211.6,379.2) scale(1,1.08)" font-size="8.2" fill="#6a4058" stroke="#6a4058" stroke-width="0.12" text-anchor="start" font-weight="normal" >1</text>
<line x1="206" y1="400.4" x2="208.6" y2="400.4" stroke="#8a1f45" stroke-width="1.4"/>
<text transform="translate(211.6,403.29999999999995) scale(1,1.08)" font-size="8.2" fill="#6a4058" stroke="#6a4058" stroke-width="0.12" text-anchor="start" font-weight="normal" >0.5</text>
<line x1="206" y1="424.5" x2="208.6" y2="424.5" stroke="#8a1f45" stroke-width="1.4"/>
<text transform="translate(211.6,427.4) scale(1,1.08)" font-size="8.2" fill="#6a4058" stroke="#6a4058" stroke-width="0.12" text-anchor="start" font-weight="normal" >0</text>
<text transform="translate(236.6,364) rotate(-90) scale(1,1.06)" font-size="9" fill="#882c52" stroke="#882c52" stroke-width="0.22" text-anchor="middle">Fraction of transcripts</text>
<line x1="60.8" y1="430.8" x2="202.5" y2="430.8" stroke="#1a1a1a" stroke-width="1.4"/>
<line x1="63.7" y1="430.8" x2="63.7" y2="433.6" stroke="#1a1a1a" stroke-width="1.4"/>
<text transform="translate(63.7,444.6) scale(1,1.06)" font-size="8.3" fill="#1a1a1a" stroke="#1a1a1a" stroke-width="0.15" text-anchor="middle" font-weight="normal" >−10</text>
<line x1="97.9" y1="430.8" x2="97.9" y2="433.6" stroke="#1a1a1a" stroke-width="1.4"/>
<text transform="translate(97.9,444.6) scale(1,1.06)" font-size="8.3" fill="#1a1a1a" stroke="#1a1a1a" stroke-width="0.15" text-anchor="middle" font-weight="normal" >−5</text>
<line x1="132.10000000000002" y1="430.8" x2="132.10000000000002" y2="433.6" stroke="#1a1a1a" stroke-width="1.4"/>
<text transform="translate(132.10000000000002,444.6) scale(1,1.06)" font-size="8.3" fill="#1a1a1a" stroke="#1a1a1a" stroke-width="0.15" text-anchor="middle" font-weight="normal" >0</text>
<line x1="166.3" y1="430.8" x2="166.3" y2="433.6" stroke="#1a1a1a" stroke-width="1.4"/>
<text transform="translate(166.3,444.6) scale(1,1.06)" font-size="8.3" fill="#1a1a1a" stroke="#1a1a1a" stroke-width="0.15" text-anchor="middle" font-weight="normal" >5</text>
<line x1="200.5" y1="430.8" x2="200.5" y2="433.6" stroke="#1a1a1a" stroke-width="1.4"/>
<text transform="translate(200.5,444.6) scale(1,1.06)" font-size="8.3" fill="#1a1a1a" stroke="#1a1a1a" stroke-width="0.15" text-anchor="middle" font-weight="normal" >10</text>
<text transform="translate(132.2,458) scale(1,1.12)" font-size="9" fill="#1a1a1a" stroke="#1a1a1a" stroke-width="0.22" text-anchor="middle" font-weight="normal" >PLT RPKM / MK or PLT RPKM [log2]</text>
<line x1="136.3" y1="334.6" x2="147.8" y2="334.6" stroke="#3a4f7c" stroke-width="1.8"/>
<text transform="translate(150.1,336.2) scale(1,1.0)" font-size="8" fill="#465a85" stroke="#465a85" stroke-width="0.15" text-anchor="start" font-weight="normal" >PLT / MK ratio</text>
<line x1="136.3" y1="344.3" x2="147.8" y2="344.3" stroke="#8e2448" stroke-width="1.8"/>
<text transform="translate(150.1,346.9) scale(1,1.0)" font-size="8" fill="#922a4e" stroke="#922a4e" stroke-width="0.15" text-anchor="start" font-weight="normal" >PLT replicates</text>
<text transform="translate(251.7,275.9) scale(1,1.1)" font-size="11" fill="#111" text-anchor="start" font-weight="bold" >D</text>
<text transform="translate(267,289.25) scale(1,1.0)" font-size="9" fill="#111" font-weight="bold"><tspan font-style="italic">in vitro</tspan> PLP / MEG01 Ratio</text>
<path d="M337,423 L337.00,422.52 L338.70,422.52 L338.70,422.35 L340.40,422.35 L340.40,422.18 L342.10,422.18 L342.10,422.00 L343.80,422.00 L343.80,421.84 L345.50,421.84 L345.50,421.40 L347.20,421.40 L347.20,420.89 L348.90,420.89 L348.90,420.38 L350.60,420.38 L350.60,419.87 L352.30,419.87 L352.30,418.48 L354.00,418.48 L354.00,414.61 L355.70,414.61 L355.70,409.75 L357.40,409.75 L357.40,402.80 L359.10,402.80 L359.10,393.72 L360.80,393.72 L360.80,380.87 L362.50,380.87 L362.50,364.04 L364.20,364.04 L364.20,342.04 L365.90,342.04 L365.90,329.93 L367.60,329.93 L367.60,325.15 L369.30,325.15 L369.30,324.74 L371.00,324.74 L371.00,327.32 L372.70,327.32 L372.70,337.65 L374.40,337.65 L374.40,353.30 L376.10,353.30 L376.10,374.05 L377.80,374.05 L377.80,389.05 L379.50,389.05 L379.50,399.87 L381.20,399.87 L381.20,406.52 L382.90,406.52 L382.90,412.43 L384.60,412.43 L384.60,415.51 L386.30,415.51 L386.30,417.45 L388.00,417.45 L388.00,418.85 L389.70,418.85 L389.70,419.92 L391.40,419.92 L391.40,420.28 L393.10,420.28 L393.10,420.65 L394.80,420.65 L394.80,421.01 L396.50,421.01 L396.50,421.33 L398.20,421.33 L398.20,421.48 L399.90,421.48 L399.90,421.63 L401.60,421.63 L401.60,421.78 L403.30,421.78 L403.30,421.93 L405.00,421.93 L405.00,422.03 L406.70,422.03 L406.70,422.08 L408.40,422.08 L408.40,422.14 L410.10,422.14 L410.10,422.20 L411.80,422.20 L411.80,422.25 L413.50,422.25 L413.50,422.31 L415.20,422.31 L415.20,422.37 L416.90,422.37 L416.90,423.00 L418.60,423.00 L418.60,423 Z" fill="#304c7c" />
<polyline points="340.00,423.00 340.25,423.00 340.50,423.00 340.75,423.00 341.00,423.00 341.25,423.00 341.50,423.00 341.75,423.00 342.00,423.00 342.25,423.00 342.50,423.00 342.75,423.00 343.00,423.00 343.25,423.00 343.50,423.00 343.75,423.00 344.00,423.00 344.25,423.00 344.50,423.00 344.75,423.00 345.00,423.00 345.25,423.00 345.50,423.00 345.75,423.00 346.00,423.00 346.25,423.00 346.50,423.00 346.75,423.00 347.00,423.00 347.25,423.00 347.50,423.00 347.75,423.00 348.00,423.00 348.25,423.00 348.50,423.00 348.75,423.00 349.00,423.00 349.25,423.00 349.50,423.00 349.75,423.00 350.00,423.00 350.25,423.00 350.50,423.00 350.75,423.00 351.00,423.00 351.25,423.00 351.50,423.00 351.75,423.00 352.00,423.00 352.25,423.00 352.50,423.00 352.75,423.00 353.00,423.00 353.25,423.00 353.50,423.00 353.75,423.00 354.00,423.00 354.25,423.00 354.50,423.00 354.75,423.00 355.00,423.00 355.25,423.00 355.50,423.00 355.75,423.00 356.00,423.00 356.25,423.00 356.50,423.00 356.75,423.00 357.00,423.00 357.25,423.00 357.50,423.00 357.75,423.00 358.00,423.00 358.25,422.99 358.50,422.99 358.75,422.99 359.00,422.99 359.25,422.99 359.50,422.98 359.75,422.98 360.00,422.97 360.25,422.97 360.50,422.96 360.75,422.95 361.00,422.94 361.25,422.93 361.50,422.91 361.75,422.89 362.00,422.86 362.25,422.83 362.50,422.80 362.75,422.75 363.00,422.70 363.25,422.64 363.50,422.56 363.75,422.47 364.00,422.36 364.25,422.23 364.50,422.08 364.75,421.90 365.00,421.68 365.25,421.43 365.50,421.14 365.75,420.79 366.00,420.39 366.25,419.93 366.50,419.38 366.75,418.76 367.00,418.04 367.25,417.21 367.50,416.26 367.75,415.17 368.00,413.94 368.25,412.54 368.50,410.96 368.75,409.19 369.00,407.20 369.25,404.98 369.50,402.51 369.75,399.78 370.00,396.77 370.25,393.47 370.50,389.87 370.75,385.98 371.00,381.77 371.25,377.27 371.50,372.48 371.75,367.42 372.00,362.13 372.25,356.64 372.50,351.01 372.75,345.30 373.00,339.61 373.25,334.04 373.50,328.73 373.75,323.86 374.00,319.67 374.25,316.55 374.50,316.12 374.75,318.94 375.00,322.96 375.25,327.71 375.50,332.95 375.75,338.48 376.00,344.16 376.25,349.87 376.50,355.52 376.75,361.05 377.00,366.38 377.25,371.49 377.50,376.34 377.75,380.90 378.00,385.16 378.25,389.12 378.50,392.77 378.75,396.13 379.00,399.20 379.25,401.98 379.50,404.50 379.75,406.77 380.00,408.81 380.25,410.63 380.50,412.24 380.75,413.67 381.00,414.94 381.25,416.05 381.50,417.03 381.75,417.88 382.00,418.62 382.25,419.27 382.50,419.82 382.75,420.30 383.00,420.72 383.25,421.07 383.50,421.38 383.75,421.64 384.00,421.86 384.25,422.04 384.50,422.20 384.75,422.34 385.00,422.45 385.25,422.54 385.50,422.62 385.75,422.69 386.00,422.74 386.25,422.79 386.50,422.83 386.75,422.86 387.00,422.88 387.25,422.91 387.50,422.92 387.75,422.94 388.00,422.95 388.25,422.96 388.50,422.97 388.75,422.97 389.00,422.98 389.25,422.98 389.50,422.99 389.75,422.99 390.00,422.99 390.25,422.99 390.50,422.99 390.75,423.00 391.00,423.00 391.25,423.00 391.50,423.00 391.75,423.00 392.00,423.00 392.25,423.00 392.50,423.00 392.75,423.00 393.00,423.00 393.25,423.00 393.50,423.00 393.75,423.00 394.00,423.00 394.25,423.00 394.50,423.00 394.75,423.00 395.00,423.00 395.25,423.00 395.50,423.00 395.75,423.00 396.00,423.00 396.25,423.00 396.50,423.00 396.75,423.00 397.00,423.00 397.25,423.00 397.50,423.00 397.75,423.00 398.00,423.00 398.25,423.00 398.50,423.00 398.75,423.00 399.00,423.00 399.25,423.00 399.50,423.00 399.75,423.00 400.00,423.00 400.25,423.00 400.50,423.00 400.75,423.00 401.00,423.00 401.25,423.00 401.50,423.00 401.75,423.00 402.00,423.00 402.25,423.00 402.50,423.00 402.75,423.00 403.00,423.00 403.25,423.00 403.50,423.00 403.75,423.00 404.00,423.00 404.25,423.00 404.50,423.00 404.75,423.00 405.00,423.00 405.25,423.00 405.50,423.00 405.75,423.00 406.00,423.00 406.25,423.00 406.50,423.00 406.75,423.00 407.00,423.00 407.25,423.00 407.50,423.00 407.75,423.00 408.00,423.00 408.25,423.00 408.50,423.00 408.75,423.00 409.00,423.00 409.25,423.00 409.50,423.00 409.75,423.00 410.00,423.00 410.25,423.00 410.50,423.00 410.75,423.00 411.00,423.00 411.25,423.00 411.50,423.00 411.75,423.00 412.00,423.00 412.25,423.00 412.50,423.00 412.75,423.00 413.00,423.00 413.25,423.00 413.50,423.00 413.75,423.00 414.00,423.00 414.25,423.00 414.50,423.00 414.75,423.00 415.00,423.00 415.25,423.00 415.50,423.00 415.75,423.00 416.00,423.00 416.25,423.00 416.50,423.00 416.75,423.00 417.00,423.00 417.25,423.00 417.50,423.00" fill="none" stroke="#a01242" stroke-width="1.5"/>
<line x1="297.5" y1="301.4" x2="297.5" y2="426" stroke="#364a70" stroke-width="1.4"/>
<line x1="294.4" y1="304.4" x2="297.5" y2="304.4" stroke="#364a70" stroke-width="1.4"/>
<text transform="translate(290.9,307.59999999999997) scale(1,1.08)" font-size="8.2" fill="#545d7a" stroke="#545d7a" stroke-width="0.12" text-anchor="end" font-weight="normal" >0.5</text>
<line x1="294.4" y1="363" x2="297.5" y2="363" stroke="#364a70" stroke-width="1.4"/>
<text transform="translate(290.9,366.2) scale(1,1.08)" font-size="8.2" fill="#545d7a" stroke="#545d7a" stroke-width="0.12" text-anchor="end" font-weight="normal" >0.25</text>
<line x1="294.4" y1="421.6" x2="297.5" y2="421.6" stroke="#364a70" stroke-width="1.4"/>
<text transform="translate(290.9,424.8) scale(1,1.08)" font-size="8.2" fill="#545d7a" stroke="#545d7a" stroke-width="0.12" text-anchor="end" font-weight="normal" >0</text>
<text transform="translate(303.3,308.6) scale(1,1.0)" font-size="9" fill="#2a2a2a" stroke="#2a2a2a" stroke-width="0.05" text-anchor="start" font-weight="normal" >7d PLPs</text>
<text transform="translate(268.0,363) rotate(-90) scale(1,1.06)" font-size="9" fill="#52608a" stroke="#52608a" stroke-width="0.22" text-anchor="middle">Fraction of transcripts</text>
<line x1="453.4" y1="298.4" x2="453.4" y2="424.7" stroke="#8a1f45" stroke-width="1.4"/>
<line x1="453.4" y1="300.5" x2="456" y2="300.5" stroke="#8a1f45" stroke-width="1.4"/>
<text transform="translate(459.8,303.5) scale(1,1.08)" font-size="8.2" fill="#6a4058" stroke="#6a4058" stroke-width="0.12" text-anchor="start" font-weight="normal" >2</text>
<line x1="453.4" y1="361.1" x2="456" y2="361.1" stroke="#8a1f45" stroke-width="1.4"/>
<text transform="translate(459.8,364.1) scale(1,1.08)" font-size="8.2" fill="#6a4058" stroke="#6a4058" stroke-width="0.12" text-anchor="start" font-weight="normal" >1</text>
<line x1="453.4" y1="421.7" x2="456" y2="421.7" stroke="#8a1f45" stroke-width="1.4"/>
<text transform="translate(459.8,424.7) scale(1,1.08)" font-size="8.2" fill="#6a4058" stroke="#6a4058" stroke-width="0.12" text-anchor="start" font-weight="normal" >0</text>
<text transform="translate(476.2,362) rotate(-90) scale(1,1.06)" font-size="9" fill="#882c52" stroke="#882c52" stroke-width="0.22" text-anchor="middle">Fraction of transcripts</text>
<line x1="313.75" y1="430.5" x2="427.9" y2="430.5" stroke="#1a1a1a" stroke-width="1.4"/>
<line x1="316.6" y1="430.5" x2="316.6" y2="433.3" stroke="#1a1a1a" stroke-width="1.4"/>
<text transform="translate(316.6,444.4) scale(1,1.06)" font-size="8.3" fill="#1a1a1a" stroke="#1a1a1a" stroke-width="0.15" text-anchor="middle" font-weight="normal" >−10</text>
<line x1="343.8" y1="430.5" x2="343.8" y2="433.3" stroke="#1a1a1a" stroke-width="1.4"/>
<text transform="translate(343.8,444.4) scale(1,1.06)" font-size="8.3" fill="#1a1a1a" stroke="#1a1a1a" stroke-width="0.15" text-anchor="middle" font-weight="normal" >−5</text>
<line x1="371.0" y1="430.5" x2="371.0" y2="433.3" stroke="#1a1a1a" stroke-width="1.4"/>
<text transform="translate(371.0,444.4) scale(1,1.06)" font-size="8.3" fill="#1a1a1a" stroke="#1a1a1a" stroke-width="0.15" text-anchor="middle" font-weight="normal" >0</text>
<line x1="398.20000000000005" y1="430.5" x2="398.20000000000005" y2="433.3" stroke="#1a1a1a" stroke-width="1.4"/>
<text transform="translate(398.20000000000005,444.4) scale(1,1.06)" font-size="8.3" fill="#1a1a1a" stroke="#1a1a1a" stroke-width="0.15" text-anchor="middle" font-weight="normal" >5</text>
<line x1="425.40000000000003" y1="430.5" x2="425.40000000000003" y2="433.3" stroke="#1a1a1a" stroke-width="1.4"/>
<text transform="translate(425.40000000000003,444.4) scale(1,1.06)" font-size="8.3" fill="#1a1a1a" stroke="#1a1a1a" stroke-width="0.15" text-anchor="middle" font-weight="normal" >10</text>
<text transform="translate(370.7,457.7) scale(1,1.12)" font-size="9" fill="#1a1a1a" stroke="#1a1a1a" stroke-width="0.22" text-anchor="middle" font-weight="normal" >PLP RPKM / Meg01 or PLP RPKM [log2]</text>
<line x1="383.6" y1="331.9" x2="393.5" y2="331.9" stroke="#304c7c" stroke-width="1.6"/>
<text transform="translate(398,333.6) scale(1,1.0)" font-size="7.9" fill="#465a85" stroke="#465a85" stroke-width="0.15" text-anchor="start" font-weight="normal" >PLP / Meg01</text>
<text transform="translate(398,342.4) scale(1,1.0)" font-size="7.9" fill="#465a85" stroke="#465a85" stroke-width="0.15" text-anchor="start" font-weight="normal" >ratio</text>
<line x1="383.6" y1="351.4" x2="393.5" y2="351.4" stroke="#aa0c38" stroke-width="1.6"/>
<text transform="translate(398,353.6) scale(1,1.0)" font-size="7.9" fill="#922a4e" stroke="#922a4e" stroke-width="0.15" text-anchor="start" font-weight="normal" >PLP replicates</text>
<rect x="0.5" y="0.5" width="518" height="466" fill="none" stroke="#000" stroke-width="1"/>
<rect x="517.6" y="0" width="2.4" height="468" fill="#000"/>
<rect x="0" y="465.3" width="520" height="2.7" fill="#000"/>
</svg>
</body></html>
